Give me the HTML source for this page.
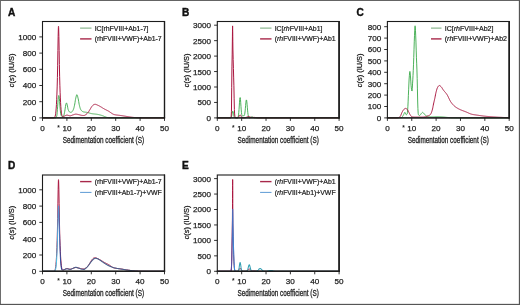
<!DOCTYPE html>
<html><head><meta charset="utf-8"><title>Figure</title>
<style>
html,body{margin:0;padding:0;background:#fff;}
body{width:520px;height:305px;overflow:hidden;position:relative;}
svg{position:absolute;left:0;top:0;display:block;will-change:transform;}
svg text{font-family:"Liberation Sans",sans-serif;}
</style></head><body>
<svg width="520" height="305" viewBox="0 0 520 305">
<defs>
<linearGradient id="gD" gradientUnits="userSpaceOnUse" x1="56.5" y1="0" x2="60.8" y2="0"><stop offset="0" stop-color="#4cc0e4"/><stop offset="0.5" stop-color="#5b8fd0"/><stop offset="1" stop-color="#2c4596"/></linearGradient>
<linearGradient id="gE" gradientUnits="userSpaceOnUse" x1="231" y1="0" x2="235" y2="0"><stop offset="0" stop-color="#5b3f95"/><stop offset="0.5" stop-color="#3f7fd0"/><stop offset="1" stop-color="#2f95e6"/></linearGradient>
</defs>
<rect x="0" y="0" width="520" height="305" fill="#fff"/>
<text x="7.9" y="15.5" font-size="10.1" font-weight="bold" fill="#111" stroke="#111" stroke-width="0.4">A</text>
<path d="M42.50,117.90 L42.74,117.90 L42.99,117.90 L43.23,117.90 L43.48,117.90 L43.72,117.90 L43.97,117.90 L44.21,117.90 L44.46,117.90 L44.70,117.90 L44.94,117.90 L45.19,117.90 L45.43,117.90 L45.68,117.90 L45.92,117.90 L46.17,117.90 L46.41,117.90 L46.66,117.90 L46.90,117.90 L47.15,117.90 L47.39,117.90 L47.63,117.90 L47.88,117.90 L48.12,117.90 L48.37,117.90 L48.61,117.90 L48.86,117.90 L49.10,117.90 L49.35,117.90 L49.59,117.90 L49.83,117.90 L50.08,117.90 L50.32,117.90 L50.57,117.90 L50.81,117.90 L51.06,117.90 L51.30,117.90 L51.55,117.90 L51.79,117.90 L52.04,117.90 L52.28,117.90 L52.52,117.90 L52.77,117.90 L53.01,117.90 L53.26,117.90 L53.50,117.90 L53.75,117.90 L53.99,117.90 L54.24,117.90 L54.48,117.90 L54.72,117.90 L54.97,117.90 L55.21,117.90 L55.46,117.90 L55.70,117.85 L55.95,117.64 L56.19,117.30 L56.44,116.83 L56.68,116.23 L56.92,115.25 L57.17,112.71 L57.41,109.36 L57.66,106.17 L57.90,102.66 L58.15,99.34 L58.38,97.33 L58.39,97.25 L58.43,96.98 L58.45,96.84 L58.50,96.51 L58.55,96.21 L58.60,95.94 L58.62,95.85 L58.64,95.78 L58.67,95.64 L58.88,95.50 L59.13,96.68 L59.37,98.48 L59.61,101.56 L59.86,105.15 L60.10,108.02 L60.35,110.76 L60.59,113.17 L60.84,114.71 L61.08,115.29 L61.33,115.75 L61.57,116.14 L61.81,116.45 L62.06,116.69 L62.30,116.84 L62.55,116.90 L62.79,116.85 L63.04,116.65 L63.28,116.33 L63.53,115.92 L63.77,115.46 L64.02,114.81 L64.26,113.80 L64.50,112.56 L64.75,111.22 L64.99,109.86 L65.24,108.18 L65.48,106.42 L65.73,105.00 L65.97,104.08 L66.22,103.30 L66.46,102.91 L66.70,103.13 L66.95,103.82 L67.19,104.68 L67.44,105.82 L67.68,107.32 L67.93,108.72 L68.17,109.59 L68.42,110.22 L68.66,110.76 L68.90,111.22 L69.15,111.58 L69.39,111.83 L69.64,111.98 L69.88,112.10 L70.13,112.21 L70.37,112.30 L70.62,112.36 L70.86,112.39 L71.11,112.39 L71.35,112.30 L71.59,112.13 L71.84,111.90 L72.08,111.64 L72.33,111.37 L72.57,111.05 L72.82,110.65 L73.06,110.18 L73.31,109.63 L73.55,109.03 L73.79,108.32 L74.04,107.41 L74.28,106.37 L74.53,105.24 L74.77,103.98 L75.02,102.44 L75.26,100.82 L75.51,99.34 L75.75,98.19 L75.99,97.16 L76.24,96.16 L76.48,95.34 L76.73,94.82 L76.97,94.72 L77.22,95.10 L77.46,95.82 L77.71,96.77 L77.95,97.79 L78.20,98.80 L78.44,100.06 L78.68,101.51 L78.93,102.98 L79.17,104.31 L79.42,105.40 L79.66,106.42 L79.91,107.36 L80.15,108.20 L80.40,108.87 L80.64,109.37 L80.88,109.79 L81.13,110.16 L81.37,110.47 L81.62,110.73 L81.86,110.95 L82.11,111.15 L82.35,111.34 L82.60,111.50 L82.84,111.64 L83.09,111.75 L83.33,111.82 L83.57,111.88 L83.82,111.94 L84.06,111.98 L84.31,112.03 L84.55,112.06 L84.80,112.10 L85.04,112.13 L85.29,112.16 L85.53,112.19 L85.77,112.22 L86.02,112.25 L86.26,112.28 L86.51,112.31 L86.75,112.35 L87.00,112.40 L87.24,112.45 L87.49,112.51 L87.73,112.56 L87.97,112.63 L88.22,112.69 L88.46,112.76 L88.71,112.83 L88.95,112.91 L89.20,112.98 L89.44,113.05 L89.69,113.13 L89.93,113.20 L90.18,113.27 L90.42,113.34 L90.66,113.40 L90.91,113.47 L91.15,113.53 L91.40,113.58 L91.64,113.64 L91.89,113.68 L92.13,113.72 L92.38,113.76 L92.62,113.79 L92.86,113.82 L93.11,113.86 L93.35,113.88 L93.60,113.91 L93.84,113.94 L94.09,113.96 L94.33,113.99 L94.58,114.01 L94.82,114.03 L95.07,114.06 L95.31,114.08 L95.55,114.11 L95.80,114.14 L96.04,114.17 L96.29,114.20 L96.53,114.23 L96.78,114.27 L97.02,114.30 L97.27,114.34 L97.51,114.39 L97.75,114.43 L98.00,114.48 L98.24,114.53 L98.49,114.58 L98.73,114.63 L98.98,114.69 L99.22,114.74 L99.47,114.80 L99.71,114.86 L99.95,114.92 L100.20,114.99 L100.44,115.05 L100.69,115.12 L100.93,115.19 L101.18,115.26 L101.42,115.33 L101.67,115.40 L101.91,115.47 L102.16,115.55 L102.40,115.63 L102.64,115.72 L102.89,115.82 L103.13,115.92 L103.38,116.02 L103.62,116.13 L103.87,116.23 L104.11,116.34 L104.36,116.44 L104.60,116.54 L104.84,116.64 L105.09,116.73 L105.33,116.83 L105.58,116.93 L105.82,117.02 L106.07,117.12 L106.31,117.21 L106.56,117.29 L106.80,117.35 L107.05,117.41 L107.29,117.46 L107.53,117.50 L107.78,117.55 L108.02,117.59 L108.27,117.63 L108.51,117.66 L108.76,117.70 L109.00,117.72 L109.25,117.75 L109.49,117.77 L109.73,117.79 L109.98,117.80 L110.22,117.81 L110.47,117.82 L110.71,117.82 L110.96,117.83 L111.20,117.84 L111.45,117.85 L111.69,117.85 L111.93,117.86 L112.18,117.87 L112.42,117.87 L112.67,117.88 L112.91,117.88 L113.16,117.89 L113.40,117.89 L113.65,117.89 L113.89,117.89 L114.14,117.90 L114.38,117.90 L114.62,117.90 L114.87,117.90 L115.11,117.90 L115.36,117.90 L115.60,117.90 L115.85,117.90 L116.09,117.90 L116.34,117.90 L116.58,117.90 L116.82,117.90 L117.07,117.90 L117.31,117.90 L117.56,117.90 L117.80,117.90 L118.05,117.90 L118.29,117.90 L118.54,117.90 L118.78,117.90 L119.03,117.90 L119.27,117.90 L119.51,117.90 L119.76,117.90 L120.00,117.90 L120.25,117.90 L120.49,117.90 L120.74,117.90 L120.98,117.90 L121.23,117.90 L121.47,117.90 L121.71,117.90 L121.96,117.90 L122.20,117.90 L122.45,117.90 L122.69,117.90 L122.94,117.90 L123.18,117.90 L123.43,117.90 L123.67,117.90 L123.91,117.90 L124.16,117.90 L124.40,117.90 L124.65,117.90 L124.89,117.90 L125.14,117.90 L125.38,117.90 L125.63,117.90 L125.87,117.90 L126.12,117.90 L126.36,117.90 L126.60,117.90 L126.85,117.90 L127.09,117.90 L127.34,117.90 L127.58,117.90 L127.83,117.90 L128.07,117.90 L128.32,117.90 L128.56,117.90 L128.80,117.90 L129.05,117.90 L129.29,117.90 L129.54,117.90 L129.78,117.90 L130.03,117.90 L130.27,117.90 L130.52,117.90 L130.76,117.90 L131.01,117.90 L131.25,117.90 L131.49,117.90 L131.74,117.90 L131.98,117.90 L132.23,117.90 L132.47,117.90 L132.72,117.90 L132.96,117.90 L133.21,117.90 L133.45,117.90 L133.69,117.90 L133.94,117.90 L134.18,117.90 L134.43,117.90 L134.67,117.90 L134.92,117.90 L135.16,117.90 L135.41,117.90 L135.65,117.90 L135.89,117.90 L136.14,117.90 L136.38,117.90 L136.63,117.90 L136.87,117.90 L137.12,117.90 L137.36,117.90 L137.61,117.90 L137.85,117.90 L138.10,117.90 L138.34,117.90 L138.58,117.90 L138.83,117.90 L139.07,117.90 L139.32,117.90 L139.56,117.90 L139.81,117.90 L140.05,117.90 L140.30,117.90 L140.54,117.90 L140.78,117.90 L141.03,117.90 L141.27,117.90 L141.52,117.90 L141.76,117.90 L142.01,117.90 L142.25,117.90 L142.50,117.90 L142.74,117.90 L142.98,117.90 L143.23,117.90 L143.47,117.90 L143.72,117.90 L143.96,117.90 L144.21,117.90 L144.45,117.90 L144.70,117.90 L144.94,117.90 L145.19,117.90 L145.43,117.90 L145.67,117.90 L145.92,117.90 L146.16,117.90 L146.41,117.90 L146.65,117.90 L146.90,117.90 L147.14,117.90 L147.39,117.90 L147.63,117.90 L147.87,117.90 L148.12,117.90 L148.36,117.90 L148.61,117.90 L148.85,117.90 L149.10,117.90 L149.34,117.90 L149.59,117.90 L149.83,117.90 L150.08,117.90 L150.32,117.90 L150.56,117.90 L150.81,117.90 L151.05,117.90 L151.30,117.90 L151.54,117.90 L151.79,117.90 L152.03,117.90 L152.28,117.90 L152.52,117.90 L152.76,117.90 L153.01,117.90 L153.25,117.90 L153.50,117.90 L153.74,117.90 L153.99,117.90 L154.23,117.90 L154.48,117.90 L154.72,117.90 L154.96,117.90 L155.21,117.90 L155.45,117.90 L155.70,117.90 L155.94,117.90 L156.19,117.90 L156.43,117.90 L156.68,117.90 L156.92,117.90 L157.17,117.90 L157.41,117.90 L157.65,117.90 L157.90,117.90 L158.14,117.90 L158.39,117.90 L158.63,117.90 L158.88,117.90 L159.12,117.90 L159.37,117.90 L159.61,117.90 L159.85,117.90 L160.10,117.90 L160.34,117.90 L160.59,117.90 L160.83,117.90 L161.08,117.90 L161.32,117.90 L161.57,117.90 L161.81,117.90 L162.06,117.90 L162.30,117.90 L162.54,117.90 L162.79,117.90 L163.03,117.90 L163.28,117.90 L163.52,117.90 L163.77,117.90 L164.01,117.90 L164.26,117.90 L164.50,117.90" fill="none" stroke="#38a847" stroke-width="0.9" stroke-linejoin="round" stroke-opacity="1"/>
<path d="M42.50,117.90 L42.74,117.90 L42.99,117.90 L43.23,117.90 L43.48,117.90 L43.72,117.90 L43.97,117.90 L44.21,117.90 L44.46,117.90 L44.70,117.90 L44.94,117.90 L45.19,117.90 L45.43,117.90 L45.68,117.90 L45.92,117.90 L46.17,117.90 L46.41,117.90 L46.66,117.90 L46.90,117.90 L47.15,117.90 L47.39,117.90 L47.63,117.90 L47.88,117.90 L48.12,117.90 L48.37,117.90 L48.61,117.90 L48.86,117.90 L49.10,117.90 L49.35,117.90 L49.59,117.90 L49.83,117.90 L50.08,117.90 L50.32,117.90 L50.57,117.90 L50.81,117.90 L51.06,117.90 L51.30,117.90 L51.55,117.90 L51.79,117.90 L52.04,117.90 L52.28,117.90 L52.52,117.90 L52.77,117.90 L53.01,117.89 L53.26,117.89 L53.50,117.87 L53.75,117.85 L53.99,117.79 L54.24,117.70 L54.48,117.52 L54.72,117.23 L54.97,116.75 L55.21,116.01 L55.46,114.89 L55.70,113.29 L55.95,111.07 L56.19,108.12 L56.44,104.37 L56.68,99.74 L56.92,94.08 L57.17,86.94 L57.41,77.56 L57.66,65.22 L57.90,50.45 L58.15,36.25 L58.38,27.62 L58.39,27.38 L58.43,26.77 L58.45,26.54 L58.50,26.25 L58.55,26.38 L58.60,26.91 L58.62,27.24 L58.64,27.55 L58.67,28.33 L58.88,36.53 L59.13,50.40 L59.37,64.52 L59.61,76.24 L59.86,85.22 L60.10,92.21 L60.35,97.92 L60.59,102.69 L60.84,106.62 L61.08,109.74 L61.33,112.10 L61.57,113.82 L61.81,115.00 L62.06,115.77 L62.30,116.23 L62.55,116.48 L62.79,116.58 L63.04,116.59 L63.28,116.54 L63.53,116.47 L63.77,116.38 L64.02,116.29 L64.26,116.19 L64.50,116.08 L64.75,115.96 L64.99,115.83 L65.24,115.71 L65.48,115.59 L65.73,115.47 L65.97,115.37 L66.22,115.29 L66.46,115.22 L66.70,115.17 L66.95,115.15 L67.19,115.16 L67.44,115.19 L67.68,115.23 L67.93,115.29 L68.17,115.36 L68.42,115.43 L68.66,115.51 L68.90,115.58 L69.15,115.65 L69.39,115.71 L69.64,115.76 L69.88,115.79 L70.13,115.80 L70.37,115.78 L70.62,115.75 L70.86,115.69 L71.11,115.62 L71.35,115.53 L71.59,115.44 L71.84,115.34 L72.08,115.24 L72.33,115.14 L72.57,115.04 L72.82,114.96 L73.06,114.88 L73.31,114.80 L73.55,114.72 L73.79,114.63 L74.04,114.54 L74.28,114.46 L74.53,114.38 L74.77,114.30 L75.02,114.24 L75.26,114.19 L75.51,114.16 L75.75,114.15 L75.99,114.16 L76.24,114.17 L76.48,114.20 L76.73,114.23 L76.97,114.27 L77.22,114.31 L77.46,114.36 L77.71,114.42 L77.95,114.47 L78.20,114.53 L78.44,114.58 L78.68,114.63 L78.93,114.69 L79.17,114.74 L79.42,114.79 L79.66,114.86 L79.91,114.92 L80.15,114.99 L80.40,115.06 L80.64,115.13 L80.88,115.20 L81.13,115.26 L81.37,115.31 L81.62,115.35 L81.86,115.39 L82.11,115.41 L82.35,115.43 L82.60,115.45 L82.84,115.46 L83.09,115.48 L83.33,115.49 L83.57,115.50 L83.82,115.50 L84.06,115.49 L84.31,115.44 L84.55,115.36 L84.80,115.25 L85.04,115.12 L85.29,114.97 L85.53,114.81 L85.77,114.65 L86.02,114.49 L86.26,114.31 L86.51,114.11 L86.75,113.89 L87.00,113.65 L87.24,113.39 L87.49,113.12 L87.73,112.83 L87.97,112.54 L88.22,112.24 L88.46,111.92 L88.71,111.57 L88.95,111.20 L89.20,110.81 L89.44,110.40 L89.69,110.00 L89.93,109.61 L90.18,109.22 L90.42,108.81 L90.66,108.38 L90.91,107.96 L91.15,107.54 L91.40,107.14 L91.64,106.77 L91.89,106.44 L92.13,106.15 L92.38,105.86 L92.62,105.58 L92.86,105.33 L93.11,105.10 L93.35,104.90 L93.60,104.75 L93.84,104.64 L94.09,104.54 L94.33,104.45 L94.58,104.37 L94.82,104.32 L95.07,104.30 L95.31,104.31 L95.55,104.35 L95.80,104.41 L96.04,104.48 L96.29,104.57 L96.53,104.68 L96.78,104.78 L97.02,104.89 L97.27,105.00 L97.51,105.10 L97.75,105.21 L98.00,105.32 L98.24,105.43 L98.49,105.55 L98.73,105.68 L98.98,105.80 L99.22,105.94 L99.47,106.07 L99.71,106.21 L99.95,106.35 L100.20,106.49 L100.44,106.63 L100.69,106.77 L100.93,106.90 L101.18,107.05 L101.42,107.20 L101.67,107.35 L101.91,107.50 L102.16,107.66 L102.40,107.82 L102.64,107.97 L102.89,108.13 L103.13,108.28 L103.38,108.43 L103.62,108.58 L103.87,108.72 L104.11,108.86 L104.36,109.00 L104.60,109.13 L104.84,109.26 L105.09,109.39 L105.33,109.51 L105.58,109.64 L105.82,109.76 L106.07,109.88 L106.31,110.00 L106.56,110.12 L106.80,110.25 L107.05,110.37 L107.29,110.49 L107.53,110.62 L107.78,110.75 L108.02,110.88 L108.27,111.01 L108.51,111.15 L108.76,111.29 L109.00,111.45 L109.25,111.60 L109.49,111.77 L109.73,111.93 L109.98,112.10 L110.22,112.27 L110.47,112.45 L110.71,112.62 L110.96,112.79 L111.20,112.96 L111.45,113.13 L111.69,113.29 L111.93,113.45 L112.18,113.61 L112.42,113.76 L112.67,113.90 L112.91,114.03 L113.16,114.16 L113.40,114.27 L113.65,114.38 L113.89,114.47 L114.14,114.55 L114.38,114.62 L114.62,114.68 L114.87,114.73 L115.11,114.78 L115.36,114.82 L115.60,114.86 L115.85,114.90 L116.09,114.94 L116.34,114.97 L116.58,115.01 L116.82,115.04 L117.07,115.07 L117.31,115.10 L117.56,115.12 L117.80,115.15 L118.05,115.18 L118.29,115.21 L118.54,115.23 L118.78,115.26 L119.03,115.28 L119.27,115.31 L119.51,115.34 L119.76,115.37 L120.00,115.40 L120.25,115.43 L120.49,115.46 L120.74,115.50 L120.98,115.53 L121.23,115.57 L121.47,115.61 L121.71,115.65 L121.96,115.68 L122.20,115.72 L122.45,115.76 L122.69,115.80 L122.94,115.84 L123.18,115.88 L123.43,115.92 L123.67,115.96 L123.91,116.00 L124.16,116.04 L124.40,116.08 L124.65,116.12 L124.89,116.16 L125.14,116.20 L125.38,116.24 L125.63,116.28 L125.87,116.32 L126.12,116.36 L126.36,116.40 L126.60,116.44 L126.85,116.48 L127.09,116.51 L127.34,116.55 L127.58,116.59 L127.83,116.63 L128.07,116.67 L128.32,116.71 L128.56,116.75 L128.80,116.79 L129.05,116.83 L129.29,116.87 L129.54,116.91 L129.78,116.95 L130.03,116.98 L130.27,117.02 L130.52,117.06 L130.76,117.10 L131.01,117.13 L131.25,117.17 L131.49,117.20 L131.74,117.23 L131.98,117.26 L132.23,117.29 L132.47,117.32 L132.72,117.35 L132.96,117.37 L133.21,117.40 L133.45,117.42 L133.69,117.44 L133.94,117.46 L134.18,117.48 L134.43,117.50 L134.67,117.52 L134.92,117.54 L135.16,117.56 L135.41,117.58 L135.65,117.60 L135.89,117.62 L136.14,117.64 L136.38,117.66 L136.63,117.67 L136.87,117.69 L137.12,117.70 L137.36,117.72 L137.61,117.73 L137.85,117.74 L138.10,117.76 L138.34,117.77 L138.58,117.78 L138.83,117.78 L139.07,117.79 L139.32,117.80 L139.56,117.80 L139.81,117.81 L140.05,117.81 L140.30,117.81 L140.54,117.82 L140.78,117.82 L141.03,117.83 L141.27,117.83 L141.52,117.83 L141.76,117.84 L142.01,117.84 L142.25,117.84 L142.50,117.85 L142.74,117.85 L142.98,117.85 L143.23,117.86 L143.47,117.86 L143.72,117.86 L143.96,117.86 L144.21,117.87 L144.45,117.87 L144.70,117.87 L144.94,117.88 L145.19,117.88 L145.43,117.88 L145.67,117.88 L145.92,117.88 L146.16,117.89 L146.41,117.89 L146.65,117.89 L146.90,117.89 L147.14,117.89 L147.39,117.89 L147.63,117.89 L147.87,117.90 L148.12,117.90 L148.36,117.90 L148.61,117.90 L148.85,117.90 L149.10,117.90 L149.34,117.90 L149.59,117.90 L149.83,117.90 L150.08,117.90 L150.32,117.90 L150.56,117.90 L150.81,117.90 L151.05,117.90 L151.30,117.90 L151.54,117.90 L151.79,117.90 L152.03,117.90 L152.28,117.90 L152.52,117.90 L152.76,117.90 L153.01,117.90 L153.25,117.90 L153.50,117.90 L153.74,117.90 L153.99,117.90 L154.23,117.90 L154.48,117.90 L154.72,117.90 L154.96,117.90 L155.21,117.90 L155.45,117.90 L155.70,117.90 L155.94,117.90 L156.19,117.90 L156.43,117.90 L156.68,117.90 L156.92,117.90 L157.17,117.90 L157.41,117.90 L157.65,117.90 L157.90,117.90 L158.14,117.90 L158.39,117.90 L158.63,117.90 L158.88,117.90 L159.12,117.90 L159.37,117.90 L159.61,117.90 L159.85,117.90 L160.10,117.90 L160.34,117.90 L160.59,117.90 L160.83,117.90 L161.08,117.90 L161.32,117.90 L161.57,117.90 L161.81,117.90 L162.06,117.90 L162.30,117.90 L162.54,117.90 L162.79,117.90 L163.03,117.90 L163.28,117.90 L163.52,117.90 L163.77,117.90 L164.01,117.90 L164.26,117.90 L164.50,117.90" fill="none" stroke="#aa163f" stroke-width="1.0" stroke-linejoin="round" stroke-opacity="1"/>
<rect x="42.5" y="21.5" width="122.00" height="96.40" fill="none" stroke="#1c1c1c" stroke-width="1.1"/>
<line x1="41.95" y1="117.9" x2="165.1" y2="117.9" stroke="#1c1c1c" stroke-width="1.4"/>
<line x1="164.5" y1="21.0" x2="164.5" y2="118.5" stroke="#1c1c1c" stroke-width="1.3"/>
<line x1="39.3" y1="117.90" x2="42.5" y2="117.90" stroke="#1c1c1c" stroke-width="0.9"/>
<text x="36.3" y="120.85" font-size="8.1" text-anchor="end" fill="#1e1e1e" stroke="#1e1e1e" stroke-width="0.25">0</text>
<line x1="39.3" y1="101.70" x2="42.5" y2="101.70" stroke="#1c1c1c" stroke-width="0.9"/>
<text x="36.3" y="104.65" font-size="8.1" text-anchor="end" fill="#1e1e1e" stroke="#1e1e1e" stroke-width="0.25">200</text>
<line x1="39.3" y1="85.50" x2="42.5" y2="85.50" stroke="#1c1c1c" stroke-width="0.9"/>
<text x="36.3" y="88.45" font-size="8.1" text-anchor="end" fill="#1e1e1e" stroke="#1e1e1e" stroke-width="0.25">400</text>
<line x1="39.3" y1="69.30" x2="42.5" y2="69.30" stroke="#1c1c1c" stroke-width="0.9"/>
<text x="36.3" y="72.25" font-size="8.1" text-anchor="end" fill="#1e1e1e" stroke="#1e1e1e" stroke-width="0.25">600</text>
<line x1="39.3" y1="53.10" x2="42.5" y2="53.10" stroke="#1c1c1c" stroke-width="0.9"/>
<text x="36.3" y="56.05" font-size="8.1" text-anchor="end" fill="#1e1e1e" stroke="#1e1e1e" stroke-width="0.25">800</text>
<line x1="39.3" y1="36.90" x2="42.5" y2="36.90" stroke="#1c1c1c" stroke-width="0.9"/>
<text x="36.3" y="39.85" font-size="8.1" text-anchor="end" fill="#1e1e1e" stroke="#1e1e1e" stroke-width="0.25">1000</text>
<line x1="42.50" y1="117.9" x2="42.50" y2="120.9" stroke="#1c1c1c" stroke-width="0.9"/>
<text x="42.50" y="130.90" font-size="8.1" text-anchor="middle" fill="#1e1e1e" stroke="#1e1e1e" stroke-width="0.25">0</text>
<line x1="66.90" y1="117.9" x2="66.90" y2="120.9" stroke="#1c1c1c" stroke-width="0.9"/>
<text x="66.90" y="130.90" font-size="8.1" text-anchor="middle" fill="#1e1e1e" stroke="#1e1e1e" stroke-width="0.25">10</text>
<line x1="91.30" y1="117.9" x2="91.30" y2="120.9" stroke="#1c1c1c" stroke-width="0.9"/>
<text x="91.30" y="130.90" font-size="8.1" text-anchor="middle" fill="#1e1e1e" stroke="#1e1e1e" stroke-width="0.25">20</text>
<line x1="115.70" y1="117.9" x2="115.70" y2="120.9" stroke="#1c1c1c" stroke-width="0.9"/>
<text x="115.70" y="130.90" font-size="8.1" text-anchor="middle" fill="#1e1e1e" stroke="#1e1e1e" stroke-width="0.25">30</text>
<line x1="140.10" y1="117.9" x2="140.10" y2="120.9" stroke="#1c1c1c" stroke-width="0.9"/>
<text x="140.10" y="130.90" font-size="8.1" text-anchor="middle" fill="#1e1e1e" stroke="#1e1e1e" stroke-width="0.25">40</text>
<line x1="164.50" y1="117.9" x2="164.50" y2="120.9" stroke="#1c1c1c" stroke-width="0.9"/>
<text x="164.50" y="130.90" font-size="8.1" text-anchor="middle" fill="#1e1e1e" stroke="#1e1e1e" stroke-width="0.25">50</text>
<text x="58.60" y="129.50" font-size="6.5" font-weight="bold" text-anchor="middle" fill="#1e1e1e">*</text>
<text x="103.40" y="143.30" font-size="9" text-anchor="middle" fill="#1e1e1e" stroke="#1e1e1e" stroke-width="0.3" textLength="81.3" lengthAdjust="spacingAndGlyphs">Sedimentation coefficient (S)</text>
<text transform="translate(14.40,70.35) rotate(-90)" font-size="7.6" text-anchor="middle" fill="#1e1e1e" stroke="#1e1e1e" stroke-width="0.28" textLength="33.7" lengthAdjust="spacingAndGlyphs"><tspan font-style="italic">c</tspan>(<tspan font-style="italic">s</tspan>) (IU/S)</text>
<line x1="80.1" y1="28.1" x2="91.5" y2="28.1" stroke="#4f8f55" stroke-width="0.8"/>
<text x="94.69999999999999" y="30.6" font-size="6.9" fill="#1e1e1e" stroke="#1e1e1e" stroke-width="0.22">IC[rhFVIII+Ab1-7]</text>
<line x1="80.1" y1="38.900000000000006" x2="91.5" y2="38.900000000000006" stroke="#a8284a" stroke-width="1.4"/>
<text x="94.69999999999999" y="41.400000000000006" font-size="6.9" fill="#1e1e1e" stroke="#1e1e1e" stroke-width="0.22">(rhFVIII+VWF)+Ab1-7</text>
<text x="182.0" y="15.5" font-size="10.1" font-weight="bold" fill="#111" stroke="#111" stroke-width="0.4">B</text>
<path d="M217.30,117.90 L217.54,117.90 L217.79,117.90 L218.03,117.90 L218.28,117.90 L218.52,117.90 L218.76,117.90 L219.01,117.90 L219.25,117.90 L219.50,117.90 L219.74,117.90 L219.98,117.90 L220.23,117.90 L220.47,117.90 L220.72,117.90 L220.96,117.90 L221.21,117.90 L221.45,117.90 L221.69,117.90 L221.94,117.90 L222.18,117.90 L222.43,117.90 L222.67,117.90 L222.91,117.90 L223.16,117.90 L223.40,117.90 L223.65,117.90 L223.89,117.90 L224.13,117.90 L224.38,117.90 L224.62,117.90 L224.87,117.90 L225.11,117.90 L225.35,117.90 L225.60,117.90 L225.84,117.90 L226.09,117.90 L226.33,117.90 L226.58,117.90 L226.82,117.90 L227.06,117.90 L227.31,117.90 L227.55,117.90 L227.80,117.90 L228.04,117.90 L228.28,117.90 L228.53,117.90 L228.77,117.90 L229.02,117.90 L229.26,117.90 L229.50,117.90 L229.75,117.90 L229.99,117.90 L230.24,117.89 L230.48,117.87 L230.72,117.82 L230.97,117.68 L231.21,117.38 L231.46,116.82 L231.70,115.92 L231.95,114.67 L232.19,113.25 L232.43,111.97 L232.48,111.77 L232.53,111.59 L232.55,111.52 L232.58,111.43 L232.60,111.37 L232.65,111.25 L232.65,111.25 L232.68,111.20 L232.70,111.17 L232.70,111.17 L232.72,111.14 L232.75,111.12 L232.77,111.11 L232.82,111.10 L232.92,111.20 L233.17,111.97 L233.41,113.25 L233.65,114.67 L233.90,115.91 L234.14,116.82 L234.39,117.38 L234.63,117.68 L234.87,117.82 L235.12,117.87 L235.36,117.89 L235.61,117.90 L235.85,117.90 L236.09,117.90 L236.34,117.90 L236.58,117.90 L236.83,117.90 L237.07,117.88 L237.32,117.85 L237.56,117.77 L237.80,117.57 L238.05,117.14 L238.29,116.31 L238.54,114.87 L238.78,112.65 L239.02,109.60 L239.27,105.96 L239.51,102.25 L239.76,99.20 L240.00,97.55 L240.24,97.70 L240.49,99.62 L240.73,102.80 L240.98,106.47 L241.22,109.90 L241.46,112.63 L241.71,114.46 L241.95,115.49 L242.20,115.91 L242.44,115.97 L242.69,115.86 L242.93,115.73 L243.17,115.66 L243.42,115.67 L243.66,115.75 L243.91,115.80 L244.15,115.71 L244.39,115.32 L244.64,114.47 L244.88,113.03 L245.13,110.95 L245.37,108.34 L245.61,105.49 L245.86,102.82 L246.10,100.83 L246.35,99.92 L246.59,100.29 L246.83,101.88 L247.08,104.35 L247.32,107.26 L247.57,110.13 L247.81,112.63 L248.06,114.58 L248.30,115.96 L248.54,116.84 L248.79,117.36 L249.03,117.64 L249.28,117.77 L249.52,117.81 L249.76,117.80 L250.01,117.76 L250.25,117.68 L250.50,117.58 L250.74,117.45 L250.98,117.30 L251.23,117.16 L251.47,117.03 L251.72,116.94 L251.96,116.90 L252.20,116.92 L252.45,117.00 L252.69,117.11 L252.94,117.26 L253.18,117.40 L253.43,117.54 L253.67,117.65 L253.91,117.74 L254.16,117.80 L254.40,117.84 L254.65,117.87 L254.89,117.88 L255.13,117.89 L255.38,117.90 L255.62,117.90 L255.87,117.90 L256.11,117.90 L256.35,117.90 L256.60,117.90 L256.84,117.90 L257.09,117.90 L257.33,117.90 L257.57,117.90 L257.82,117.90 L258.06,117.90 L258.31,117.90 L258.55,117.90 L258.79,117.90 L259.04,117.90 L259.28,117.90 L259.53,117.90 L259.77,117.90 L260.02,117.90 L260.26,117.90 L260.50,117.90 L260.75,117.90 L260.99,117.90 L261.24,117.90 L261.48,117.90 L261.72,117.90 L261.97,117.90 L262.21,117.90 L262.46,117.90 L262.70,117.90 L262.94,117.90 L263.19,117.90 L263.43,117.90 L263.68,117.90 L263.92,117.90 L264.16,117.90 L264.41,117.90 L264.65,117.90 L264.90,117.90 L265.14,117.90 L265.39,117.90 L265.63,117.90 L265.87,117.90 L266.12,117.90 L266.36,117.90 L266.61,117.90 L266.85,117.90 L267.09,117.90 L267.34,117.90 L267.58,117.90 L267.83,117.90 L268.07,117.90 L268.31,117.90 L268.56,117.90 L268.80,117.90 L269.05,117.90 L269.29,117.90 L269.53,117.90 L269.78,117.90 L270.02,117.90 L270.27,117.90 L270.51,117.90 L270.76,117.90 L271.00,117.90 L271.24,117.90 L271.49,117.90 L271.73,117.90 L271.98,117.90 L272.22,117.90 L272.46,117.90 L272.71,117.90 L272.95,117.90 L273.20,117.90 L273.44,117.90 L273.68,117.90 L273.93,117.90 L274.17,117.90 L274.42,117.90 L274.66,117.90 L274.90,117.90 L275.15,117.90 L275.39,117.90 L275.64,117.90 L275.88,117.90 L276.13,117.90 L276.37,117.90 L276.61,117.90 L276.86,117.90 L277.10,117.90 L277.35,117.90 L277.59,117.90 L277.83,117.90 L278.08,117.90 L278.32,117.90 L278.57,117.90 L278.81,117.90 L279.05,117.90 L279.30,117.90 L279.54,117.90 L279.79,117.90 L280.03,117.90 L280.27,117.90 L280.52,117.90 L280.76,117.90 L281.01,117.90 L281.25,117.90 L281.50,117.90 L281.74,117.90 L281.98,117.90 L282.23,117.90 L282.47,117.90 L282.72,117.90 L282.96,117.90 L283.20,117.90 L283.45,117.90 L283.69,117.90 L283.94,117.90 L284.18,117.90 L284.42,117.90 L284.67,117.90 L284.91,117.90 L285.16,117.90 L285.40,117.90 L285.64,117.90 L285.89,117.90 L286.13,117.90 L286.38,117.90 L286.62,117.90 L286.87,117.90 L287.11,117.90 L287.35,117.90 L287.60,117.90 L287.84,117.90 L288.09,117.90 L288.33,117.90 L288.57,117.90 L288.82,117.90 L289.06,117.90 L289.31,117.90 L289.55,117.90 L289.79,117.90 L290.04,117.90 L290.28,117.90 L290.53,117.90 L290.77,117.90 L291.01,117.90 L291.26,117.90 L291.50,117.90 L291.75,117.90 L291.99,117.90 L292.24,117.90 L292.48,117.90 L292.72,117.90 L292.97,117.90 L293.21,117.90 L293.46,117.90 L293.70,117.90 L293.94,117.90 L294.19,117.90 L294.43,117.90 L294.68,117.90 L294.92,117.90 L295.16,117.90 L295.41,117.90 L295.65,117.90 L295.90,117.90 L296.14,117.90 L296.38,117.90 L296.63,117.90 L296.87,117.90 L297.12,117.90 L297.36,117.90 L297.61,117.90 L297.85,117.90 L298.09,117.90 L298.34,117.90 L298.58,117.90 L298.83,117.90 L299.07,117.90 L299.31,117.90 L299.56,117.90 L299.80,117.90 L300.05,117.90 L300.29,117.90 L300.53,117.90 L300.78,117.90 L301.02,117.90 L301.27,117.90 L301.51,117.90 L301.75,117.90 L302.00,117.90 L302.24,117.90 L302.49,117.90 L302.73,117.90 L302.97,117.90 L303.22,117.90 L303.46,117.90 L303.71,117.90 L303.95,117.90 L304.20,117.90 L304.44,117.90 L304.68,117.90 L304.93,117.90 L305.17,117.90 L305.42,117.90 L305.66,117.90 L305.90,117.90 L306.15,117.90 L306.39,117.90 L306.64,117.90 L306.88,117.90 L307.12,117.90 L307.37,117.90 L307.61,117.90 L307.86,117.90 L308.10,117.90 L308.34,117.90 L308.59,117.90 L308.83,117.90 L309.08,117.90 L309.32,117.90 L309.57,117.90 L309.81,117.90 L310.05,117.90 L310.30,117.90 L310.54,117.90 L310.79,117.90 L311.03,117.90 L311.27,117.90 L311.52,117.90 L311.76,117.90 L312.01,117.90 L312.25,117.90 L312.49,117.90 L312.74,117.90 L312.98,117.90 L313.23,117.90 L313.47,117.90 L313.71,117.90 L313.96,117.90 L314.20,117.90 L314.45,117.90 L314.69,117.90 L314.94,117.90 L315.18,117.90 L315.42,117.90 L315.67,117.90 L315.91,117.90 L316.16,117.90 L316.40,117.90 L316.64,117.90 L316.89,117.90 L317.13,117.90 L317.38,117.90 L317.62,117.90 L317.86,117.90 L318.11,117.90 L318.35,117.90 L318.60,117.90 L318.84,117.90 L319.08,117.90 L319.33,117.90 L319.57,117.90 L319.82,117.90 L320.06,117.90 L320.31,117.90 L320.55,117.90 L320.79,117.90 L321.04,117.90 L321.28,117.90 L321.53,117.90 L321.77,117.90 L322.01,117.90 L322.26,117.90 L322.50,117.90 L322.75,117.90 L322.99,117.90 L323.23,117.90 L323.48,117.90 L323.72,117.90 L323.97,117.90 L324.21,117.90 L324.45,117.90 L324.70,117.90 L324.94,117.90 L325.19,117.90 L325.43,117.90 L325.68,117.90 L325.92,117.90 L326.16,117.90 L326.41,117.90 L326.65,117.90 L326.90,117.90 L327.14,117.90 L327.38,117.90 L327.63,117.90 L327.87,117.90 L328.12,117.90 L328.36,117.90 L328.60,117.90 L328.85,117.90 L329.09,117.90 L329.34,117.90 L329.58,117.90 L329.82,117.90 L330.07,117.90 L330.31,117.90 L330.56,117.90 L330.80,117.90 L331.05,117.90 L331.29,117.90 L331.53,117.90 L331.78,117.90 L332.02,117.90 L332.27,117.90 L332.51,117.90 L332.75,117.90 L333.00,117.90 L333.24,117.90 L333.49,117.90 L333.73,117.90 L333.97,117.90 L334.22,117.90 L334.46,117.90 L334.71,117.90 L334.95,117.90 L335.19,117.90 L335.44,117.90 L335.68,117.90 L335.93,117.90 L336.17,117.90 L336.42,117.90 L336.66,117.90 L336.90,117.90 L337.15,117.90 L337.39,117.90 L337.64,117.90 L337.88,117.90 L338.12,117.90 L338.37,117.90 L338.61,117.90 L338.86,117.90 L339.10,117.90" fill="none" stroke="#38a847" stroke-width="0.9" stroke-linejoin="round" stroke-opacity="1"/>
<path d="M217.30,117.90 L217.54,117.90 L217.79,117.90 L218.03,117.90 L218.28,117.90 L218.52,117.90 L218.76,117.90 L219.01,117.90 L219.25,117.90 L219.50,117.90 L219.74,117.90 L219.98,117.90 L220.23,117.90 L220.47,117.90 L220.72,117.90 L220.96,117.90 L221.21,117.90 L221.45,117.90 L221.69,117.90 L221.94,117.90 L222.18,117.90 L222.43,117.90 L222.67,117.90 L222.91,117.90 L223.16,117.90 L223.40,117.90 L223.65,117.90 L223.89,117.90 L224.13,117.90 L224.38,117.90 L224.62,117.90 L224.87,117.90 L225.11,117.90 L225.35,117.90 L225.60,117.90 L225.84,117.90 L226.09,117.90 L226.33,117.90 L226.58,117.90 L226.82,117.90 L227.06,117.90 L227.31,117.90 L227.55,117.90 L227.80,117.90 L228.04,117.90 L228.28,117.90 L228.53,117.90 L228.77,117.90 L229.02,117.90 L229.26,117.90 L229.50,117.90 L229.75,117.90 L229.99,117.90 L230.24,117.90 L230.48,117.90 L230.72,117.83 L230.97,117.33 L231.21,116.08 L231.46,111.23 L231.70,87.78 L231.95,66.91 L232.19,54.13 L232.43,36.11 L232.48,31.82 L232.53,28.14 L232.55,27.09 L232.58,26.10 L232.60,25.90 L232.65,27.16 L232.65,27.16 L232.68,28.76 L232.70,30.42 L232.70,30.42 L232.72,32.11 L232.75,34.90 L232.77,36.86 L232.82,41.75 L232.92,49.03 L233.17,59.62 L233.41,68.40 L233.65,77.10 L233.90,85.80 L234.14,98.15 L234.39,109.59 L234.63,113.95 L234.87,116.29 L235.12,117.05 L235.36,117.49 L235.61,117.64 L235.85,117.73 L236.09,117.79 L236.34,117.84 L236.58,117.87 L236.83,117.88 L237.07,117.87 L237.32,117.84 L237.56,117.78 L237.80,117.69 L238.05,117.53 L238.29,117.32 L238.54,117.02 L238.78,116.65 L239.02,116.22 L239.27,115.78 L239.51,115.38 L239.76,115.07 L240.00,114.91 L240.24,114.93 L240.49,115.12 L240.73,115.44 L240.98,115.86 L241.22,116.30 L241.46,116.72 L241.71,117.08 L241.95,117.36 L242.20,117.57 L242.44,117.71 L242.69,117.79 L242.93,117.84 L243.17,117.87 L243.42,117.88 L243.66,117.88 L243.91,117.88 L244.15,117.86 L244.39,117.85 L244.64,117.82 L244.88,117.79 L245.13,117.75 L245.37,117.69 L245.61,117.62 L245.86,117.54 L246.10,117.44 L246.35,117.33 L246.59,117.21 L246.83,117.08 L247.08,116.96 L247.32,116.83 L247.57,116.72 L247.81,116.62 L248.06,116.55 L248.30,116.50 L248.54,116.49 L248.79,116.51 L249.03,116.55 L249.28,116.62 L249.52,116.72 L249.76,116.82 L250.01,116.93 L250.25,117.04 L250.50,117.15 L250.74,117.24 L250.98,117.32 L251.23,117.38 L251.47,117.43 L251.72,117.45 L251.96,117.47 L252.20,117.47 L252.45,117.46 L252.69,117.45 L252.94,117.44 L253.18,117.42 L253.43,117.41 L253.67,117.40 L253.91,117.40 L254.16,117.40 L254.40,117.41 L254.65,117.42 L254.89,117.45 L255.13,117.47 L255.38,117.51 L255.62,117.54 L255.87,117.58 L256.11,117.61 L256.35,117.65 L256.60,117.68 L256.84,117.72 L257.09,117.75 L257.33,117.78 L257.57,117.80 L257.82,117.82 L258.06,117.84 L258.31,117.85 L258.55,117.86 L258.79,117.87 L259.04,117.88 L259.28,117.88 L259.53,117.89 L259.77,117.89 L260.02,117.89 L260.26,117.90 L260.50,117.90 L260.75,117.90 L260.99,117.90 L261.24,117.90 L261.48,117.90 L261.72,117.90 L261.97,117.90 L262.21,117.90 L262.46,117.90 L262.70,117.90 L262.94,117.90 L263.19,117.90 L263.43,117.90 L263.68,117.90 L263.92,117.90 L264.16,117.90 L264.41,117.90 L264.65,117.90 L264.90,117.90 L265.14,117.90 L265.39,117.90 L265.63,117.90 L265.87,117.90 L266.12,117.90 L266.36,117.90 L266.61,117.90 L266.85,117.90 L267.09,117.90 L267.34,117.90 L267.58,117.90 L267.83,117.90 L268.07,117.90 L268.31,117.90 L268.56,117.90 L268.80,117.90 L269.05,117.90 L269.29,117.90 L269.53,117.90 L269.78,117.90 L270.02,117.90 L270.27,117.90 L270.51,117.90 L270.76,117.90 L271.00,117.90 L271.24,117.90 L271.49,117.90 L271.73,117.90 L271.98,117.90 L272.22,117.90 L272.46,117.90 L272.71,117.90 L272.95,117.90 L273.20,117.90 L273.44,117.90 L273.68,117.90 L273.93,117.90 L274.17,117.90 L274.42,117.90 L274.66,117.90 L274.90,117.90 L275.15,117.90 L275.39,117.90 L275.64,117.90 L275.88,117.90 L276.13,117.90 L276.37,117.90 L276.61,117.90 L276.86,117.90 L277.10,117.90 L277.35,117.90 L277.59,117.90 L277.83,117.90 L278.08,117.90 L278.32,117.90 L278.57,117.90 L278.81,117.90 L279.05,117.90 L279.30,117.90 L279.54,117.90 L279.79,117.90 L280.03,117.90 L280.27,117.90 L280.52,117.90 L280.76,117.90 L281.01,117.90 L281.25,117.90 L281.50,117.90 L281.74,117.90 L281.98,117.90 L282.23,117.90 L282.47,117.90 L282.72,117.90 L282.96,117.90 L283.20,117.90 L283.45,117.90 L283.69,117.90 L283.94,117.90 L284.18,117.90 L284.42,117.90 L284.67,117.90 L284.91,117.90 L285.16,117.90 L285.40,117.90 L285.64,117.90 L285.89,117.90 L286.13,117.90 L286.38,117.90 L286.62,117.90 L286.87,117.90 L287.11,117.90 L287.35,117.90 L287.60,117.90 L287.84,117.90 L288.09,117.90 L288.33,117.90 L288.57,117.90 L288.82,117.90 L289.06,117.90 L289.31,117.90 L289.55,117.90 L289.79,117.90 L290.04,117.90 L290.28,117.90 L290.53,117.90 L290.77,117.90 L291.01,117.90 L291.26,117.90 L291.50,117.90 L291.75,117.90 L291.99,117.90 L292.24,117.90 L292.48,117.90 L292.72,117.90 L292.97,117.90 L293.21,117.90 L293.46,117.90 L293.70,117.90 L293.94,117.90 L294.19,117.90 L294.43,117.90 L294.68,117.90 L294.92,117.90 L295.16,117.90 L295.41,117.90 L295.65,117.90 L295.90,117.90 L296.14,117.90 L296.38,117.90 L296.63,117.90 L296.87,117.90 L297.12,117.90 L297.36,117.90 L297.61,117.90 L297.85,117.90 L298.09,117.90 L298.34,117.90 L298.58,117.90 L298.83,117.90 L299.07,117.90 L299.31,117.90 L299.56,117.90 L299.80,117.90 L300.05,117.90 L300.29,117.90 L300.53,117.90 L300.78,117.90 L301.02,117.90 L301.27,117.90 L301.51,117.90 L301.75,117.90 L302.00,117.90 L302.24,117.90 L302.49,117.90 L302.73,117.90 L302.97,117.90 L303.22,117.90 L303.46,117.90 L303.71,117.90 L303.95,117.90 L304.20,117.90 L304.44,117.90 L304.68,117.90 L304.93,117.90 L305.17,117.90 L305.42,117.90 L305.66,117.90 L305.90,117.90 L306.15,117.90 L306.39,117.90 L306.64,117.90 L306.88,117.90 L307.12,117.90 L307.37,117.90 L307.61,117.90 L307.86,117.90 L308.10,117.90 L308.34,117.90 L308.59,117.90 L308.83,117.90 L309.08,117.90 L309.32,117.90 L309.57,117.90 L309.81,117.90 L310.05,117.90 L310.30,117.90 L310.54,117.90 L310.79,117.90 L311.03,117.90 L311.27,117.90 L311.52,117.90 L311.76,117.90 L312.01,117.90 L312.25,117.90 L312.49,117.90 L312.74,117.90 L312.98,117.90 L313.23,117.90 L313.47,117.90 L313.71,117.90 L313.96,117.90 L314.20,117.90 L314.45,117.90 L314.69,117.90 L314.94,117.90 L315.18,117.90 L315.42,117.90 L315.67,117.90 L315.91,117.90 L316.16,117.90 L316.40,117.90 L316.64,117.90 L316.89,117.90 L317.13,117.90 L317.38,117.90 L317.62,117.90 L317.86,117.90 L318.11,117.90 L318.35,117.90 L318.60,117.90 L318.84,117.90 L319.08,117.90 L319.33,117.90 L319.57,117.90 L319.82,117.90 L320.06,117.90 L320.31,117.90 L320.55,117.90 L320.79,117.90 L321.04,117.90 L321.28,117.90 L321.53,117.90 L321.77,117.90 L322.01,117.90 L322.26,117.90 L322.50,117.90 L322.75,117.90 L322.99,117.90 L323.23,117.90 L323.48,117.90 L323.72,117.90 L323.97,117.90 L324.21,117.90 L324.45,117.90 L324.70,117.90 L324.94,117.90 L325.19,117.90 L325.43,117.90 L325.68,117.90 L325.92,117.90 L326.16,117.90 L326.41,117.90 L326.65,117.90 L326.90,117.90 L327.14,117.90 L327.38,117.90 L327.63,117.90 L327.87,117.90 L328.12,117.90 L328.36,117.90 L328.60,117.90 L328.85,117.90 L329.09,117.90 L329.34,117.90 L329.58,117.90 L329.82,117.90 L330.07,117.90 L330.31,117.90 L330.56,117.90 L330.80,117.90 L331.05,117.90 L331.29,117.90 L331.53,117.90 L331.78,117.90 L332.02,117.90 L332.27,117.90 L332.51,117.90 L332.75,117.90 L333.00,117.90 L333.24,117.90 L333.49,117.90 L333.73,117.90 L333.97,117.90 L334.22,117.90 L334.46,117.90 L334.71,117.90 L334.95,117.90 L335.19,117.90 L335.44,117.90 L335.68,117.90 L335.93,117.90 L336.17,117.90 L336.42,117.90 L336.66,117.90 L336.90,117.90 L337.15,117.90 L337.39,117.90 L337.64,117.90 L337.88,117.90 L338.12,117.90 L338.37,117.90 L338.61,117.90 L338.86,117.90 L339.10,117.90" fill="none" stroke="#aa163f" stroke-width="1.0" stroke-linejoin="round" stroke-opacity="1"/>
<rect x="217.3" y="21.5" width="121.80" height="96.40" fill="none" stroke="#1c1c1c" stroke-width="1.1"/>
<line x1="216.75" y1="117.9" x2="339.70000000000005" y2="117.9" stroke="#1c1c1c" stroke-width="1.4"/>
<line x1="339.1" y1="21.0" x2="339.1" y2="118.5" stroke="#1c1c1c" stroke-width="1.6"/>
<line x1="214.10000000000002" y1="117.90" x2="217.3" y2="117.90" stroke="#1c1c1c" stroke-width="0.9"/>
<text x="211.10000000000002" y="120.85" font-size="8.1" text-anchor="end" fill="#1e1e1e" stroke="#1e1e1e" stroke-width="0.25">0</text>
<line x1="214.10000000000002" y1="102.45" x2="217.3" y2="102.45" stroke="#1c1c1c" stroke-width="0.9"/>
<text x="211.10000000000002" y="105.40" font-size="8.1" text-anchor="end" fill="#1e1e1e" stroke="#1e1e1e" stroke-width="0.25">500</text>
<line x1="214.10000000000002" y1="87.00" x2="217.3" y2="87.00" stroke="#1c1c1c" stroke-width="0.9"/>
<text x="211.10000000000002" y="89.95" font-size="8.1" text-anchor="end" fill="#1e1e1e" stroke="#1e1e1e" stroke-width="0.25">1000</text>
<line x1="214.10000000000002" y1="71.55" x2="217.3" y2="71.55" stroke="#1c1c1c" stroke-width="0.9"/>
<text x="211.10000000000002" y="74.50" font-size="8.1" text-anchor="end" fill="#1e1e1e" stroke="#1e1e1e" stroke-width="0.25">1500</text>
<line x1="214.10000000000002" y1="56.10" x2="217.3" y2="56.10" stroke="#1c1c1c" stroke-width="0.9"/>
<text x="211.10000000000002" y="59.05" font-size="8.1" text-anchor="end" fill="#1e1e1e" stroke="#1e1e1e" stroke-width="0.25">2000</text>
<line x1="214.10000000000002" y1="40.65" x2="217.3" y2="40.65" stroke="#1c1c1c" stroke-width="0.9"/>
<text x="211.10000000000002" y="43.60" font-size="8.1" text-anchor="end" fill="#1e1e1e" stroke="#1e1e1e" stroke-width="0.25">2500</text>
<line x1="214.10000000000002" y1="25.20" x2="217.3" y2="25.20" stroke="#1c1c1c" stroke-width="0.9"/>
<text x="211.10000000000002" y="28.15" font-size="8.1" text-anchor="end" fill="#1e1e1e" stroke="#1e1e1e" stroke-width="0.25">3000</text>
<line x1="217.30" y1="117.9" x2="217.30" y2="120.9" stroke="#1c1c1c" stroke-width="0.9"/>
<text x="217.30" y="130.90" font-size="8.1" text-anchor="middle" fill="#1e1e1e" stroke="#1e1e1e" stroke-width="0.25">0</text>
<line x1="241.66" y1="117.9" x2="241.66" y2="120.9" stroke="#1c1c1c" stroke-width="0.9"/>
<text x="241.66" y="130.90" font-size="8.1" text-anchor="middle" fill="#1e1e1e" stroke="#1e1e1e" stroke-width="0.25">10</text>
<line x1="266.02" y1="117.9" x2="266.02" y2="120.9" stroke="#1c1c1c" stroke-width="0.9"/>
<text x="266.02" y="130.90" font-size="8.1" text-anchor="middle" fill="#1e1e1e" stroke="#1e1e1e" stroke-width="0.25">20</text>
<line x1="290.38" y1="117.9" x2="290.38" y2="120.9" stroke="#1c1c1c" stroke-width="0.9"/>
<text x="290.38" y="130.90" font-size="8.1" text-anchor="middle" fill="#1e1e1e" stroke="#1e1e1e" stroke-width="0.25">30</text>
<line x1="314.74" y1="117.9" x2="314.74" y2="120.9" stroke="#1c1c1c" stroke-width="0.9"/>
<text x="314.74" y="130.90" font-size="8.1" text-anchor="middle" fill="#1e1e1e" stroke="#1e1e1e" stroke-width="0.25">40</text>
<line x1="339.10" y1="117.9" x2="339.10" y2="120.9" stroke="#1c1c1c" stroke-width="0.9"/>
<text x="339.10" y="130.90" font-size="8.1" text-anchor="middle" fill="#1e1e1e" stroke="#1e1e1e" stroke-width="0.25">50</text>
<text x="233.38" y="129.50" font-size="6.5" font-weight="bold" text-anchor="middle" fill="#1e1e1e">*</text>
<text x="278.20" y="143.30" font-size="9" text-anchor="middle" fill="#1e1e1e" stroke="#1e1e1e" stroke-width="0.3" textLength="81.3" lengthAdjust="spacingAndGlyphs">Sedimentation coefficient (S)</text>
<text transform="translate(188.50,70.35) rotate(-90)" font-size="7.6" text-anchor="middle" fill="#1e1e1e" stroke="#1e1e1e" stroke-width="0.28" textLength="33.7" lengthAdjust="spacingAndGlyphs"><tspan font-style="italic">c</tspan>(<tspan font-style="italic">s</tspan>) (IU/S)</text>
<line x1="260.1" y1="28.1" x2="271.5" y2="28.1" stroke="#4f8f55" stroke-width="0.8"/>
<text x="274.70000000000005" y="30.6" font-size="6.9" fill="#1e1e1e" stroke="#1e1e1e" stroke-width="0.22">IC[<tspan font-style="italic">rh</tspan>FVIII+Ab1]</text>
<line x1="260.1" y1="38.900000000000006" x2="271.5" y2="38.900000000000006" stroke="#a8284a" stroke-width="1.4"/>
<text x="274.70000000000005" y="41.400000000000006" font-size="6.9" fill="#1e1e1e" stroke="#1e1e1e" stroke-width="0.22">(<tspan font-style="italic">rh</tspan>FVIII+VWF)+Ab1</text>
<text x="356.5" y="15.5" font-size="10.1" font-weight="bold" fill="#111" stroke="#111" stroke-width="0.4">C</text>
<path d="M387.40,117.90 L387.64,117.90 L387.89,117.90 L388.13,117.90 L388.38,117.90 L388.62,117.90 L388.86,117.90 L389.11,117.90 L389.35,117.90 L389.60,117.90 L389.84,117.90 L390.08,117.90 L390.33,117.90 L390.57,117.90 L390.82,117.90 L391.06,117.90 L391.31,117.90 L391.55,117.90 L391.79,117.90 L392.04,117.90 L392.28,117.90 L392.53,117.90 L392.77,117.90 L393.01,117.90 L393.26,117.90 L393.50,117.90 L393.75,117.90 L393.99,117.90 L394.23,117.90 L394.48,117.90 L394.72,117.90 L394.97,117.90 L395.21,117.90 L395.45,117.90 L395.70,117.90 L395.94,117.90 L396.19,117.90 L396.43,117.90 L396.68,117.90 L396.92,117.89 L397.16,117.89 L397.41,117.88 L397.65,117.88 L397.90,117.87 L398.14,117.86 L398.38,117.85 L398.63,117.84 L398.87,117.83 L399.12,117.81 L399.36,117.80 L399.60,117.78 L399.85,117.76 L400.09,117.74 L400.34,117.72 L400.58,117.70 L400.82,117.68 L401.07,117.65 L401.31,117.62 L401.56,117.59 L401.80,117.47 L402.05,117.24 L402.29,116.93 L402.53,116.55 L402.78,116.14 L403.02,115.71 L403.27,115.28 L403.51,114.88 L403.75,114.42 L404.00,113.86 L404.24,113.28 L404.49,112.79 L404.73,112.47 L404.97,112.42 L405.22,112.75 L405.46,113.32 L405.71,113.96 L405.95,114.48 L406.19,114.70 L406.44,114.65 L406.68,114.51 L406.93,114.28 L407.17,113.95 L407.42,112.67 L407.66,109.81 L407.90,106.28 L408.15,101.15 L408.39,95.34 L408.64,89.81 L408.88,83.96 L409.12,79.02 L409.37,75.70 L409.61,72.89 L409.78,71.69 L409.85,71.45 L409.86,71.44 L409.90,71.40 L409.95,71.47 L410.02,71.76 L410.10,72.33 L410.34,75.03 L410.59,78.01 L410.83,81.89 L411.08,85.62 L411.32,87.84 L411.56,89.59 L411.81,90.81 L412.05,91.04 L412.30,88.25 L412.54,83.88 L412.79,79.86 L413.03,75.39 L413.27,70.28 L413.52,64.23 L413.76,57.58 L414.01,49.79 L414.25,41.84 L414.49,35.74 L414.74,30.16 L414.98,26.37 L414.98,26.35 L415.05,25.90 L415.10,25.80 L415.15,25.90 L415.22,26.37 L415.23,26.42 L415.47,30.32 L415.71,35.93 L415.96,42.08 L416.20,50.07 L416.45,57.80 L416.69,63.84 L416.93,69.95 L417.18,78.48 L417.42,88.90 L417.67,101.01 L417.91,108.61 L418.16,113.25 L418.40,114.61 L418.64,115.04 L418.89,115.32 L419.13,115.47 L419.38,115.49 L419.62,115.42 L419.86,115.27 L420.11,115.06 L420.35,114.84 L420.60,114.60 L420.84,114.25 L421.08,113.84 L421.33,113.44 L421.57,113.13 L421.82,112.89 L422.06,112.67 L422.30,112.49 L422.55,112.40 L422.79,112.44 L423.04,112.59 L423.28,112.80 L423.53,113.03 L423.77,113.27 L424.01,113.59 L424.26,113.94 L424.50,114.30 L424.75,114.63 L424.99,114.89 L425.23,115.09 L425.48,115.28 L425.72,115.45 L425.97,115.60 L426.21,115.75 L426.45,115.88 L426.70,116.00 L426.94,116.12 L427.19,116.24 L427.43,116.36 L427.67,116.49 L427.92,116.61 L428.16,116.71 L428.41,116.80 L428.65,116.86 L428.89,116.90 L429.14,116.90 L429.38,116.90 L429.63,116.90 L429.87,116.90 L430.12,116.90 L430.36,116.90 L430.60,116.90 L430.85,116.90 L431.09,116.90 L431.34,116.90 L431.58,116.90 L431.82,116.90 L432.07,116.90 L432.31,116.90 L432.56,116.90 L432.80,116.90 L433.04,116.90 L433.29,116.90 L433.53,116.89 L433.78,116.88 L434.02,116.87 L434.26,116.85 L434.51,116.84 L434.75,116.82 L435.00,116.80 L435.24,116.78 L435.49,116.76 L435.73,116.75 L435.97,116.73 L436.22,116.72 L436.46,116.71 L436.71,116.70 L436.95,116.70 L437.19,116.70 L437.44,116.70 L437.68,116.71 L437.93,116.71 L438.17,116.72 L438.41,116.72 L438.66,116.73 L438.90,116.74 L439.15,116.75 L439.39,116.76 L439.63,116.77 L439.88,116.78 L440.12,116.79 L440.37,116.81 L440.61,116.82 L440.86,116.83 L441.10,116.85 L441.34,116.86 L441.59,116.88 L441.83,116.89 L442.08,116.90 L442.32,116.92 L442.56,116.94 L442.81,116.96 L443.05,116.98 L443.30,117.00 L443.54,117.03 L443.78,117.05 L444.03,117.08 L444.27,117.10 L444.52,117.13 L444.76,117.16 L445.00,117.19 L445.25,117.22 L445.49,117.24 L445.74,117.27 L445.98,117.30 L446.23,117.32 L446.47,117.35 L446.71,117.37 L446.96,117.40 L447.20,117.42 L447.45,117.44 L447.69,117.46 L447.93,117.49 L448.18,117.51 L448.42,117.54 L448.67,117.56 L448.91,117.59 L449.15,117.61 L449.40,117.63 L449.64,117.65 L449.89,117.68 L450.13,117.70 L450.37,117.72 L450.62,117.73 L450.86,117.75 L451.11,117.76 L451.35,117.78 L451.60,117.79 L451.84,117.80 L452.08,117.80 L452.33,117.81 L452.57,117.81 L452.82,117.82 L453.06,117.82 L453.30,117.83 L453.55,117.83 L453.79,117.84 L454.04,117.84 L454.28,117.85 L454.52,117.85 L454.77,117.85 L455.01,117.86 L455.26,117.86 L455.50,117.87 L455.74,117.87 L455.99,117.87 L456.23,117.88 L456.48,117.88 L456.72,117.88 L456.97,117.88 L457.21,117.89 L457.45,117.89 L457.70,117.89 L457.94,117.89 L458.19,117.89 L458.43,117.90 L458.67,117.90 L458.92,117.90 L459.16,117.90 L459.41,117.90 L459.65,117.90 L459.89,117.90 L460.14,117.90 L460.38,117.90 L460.63,117.90 L460.87,117.90 L461.11,117.90 L461.36,117.90 L461.60,117.90 L461.85,117.90 L462.09,117.90 L462.34,117.90 L462.58,117.90 L462.82,117.90 L463.07,117.90 L463.31,117.90 L463.56,117.90 L463.80,117.90 L464.04,117.90 L464.29,117.90 L464.53,117.90 L464.78,117.90 L465.02,117.90 L465.26,117.90 L465.51,117.90 L465.75,117.90 L466.00,117.90 L466.24,117.90 L466.48,117.90 L466.73,117.90 L466.97,117.90 L467.22,117.90 L467.46,117.90 L467.71,117.90 L467.95,117.90 L468.19,117.90 L468.44,117.90 L468.68,117.90 L468.93,117.90 L469.17,117.90 L469.41,117.90 L469.66,117.90 L469.90,117.90 L470.15,117.90 L470.39,117.90 L470.63,117.90 L470.88,117.90 L471.12,117.90 L471.37,117.90 L471.61,117.90 L471.85,117.90 L472.10,117.90 L472.34,117.90 L472.59,117.90 L472.83,117.90 L473.07,117.90 L473.32,117.90 L473.56,117.90 L473.81,117.90 L474.05,117.90 L474.30,117.90 L474.54,117.90 L474.78,117.90 L475.03,117.90 L475.27,117.90 L475.52,117.90 L475.76,117.90 L476.00,117.90 L476.25,117.90 L476.49,117.90 L476.74,117.90 L476.98,117.90 L477.22,117.90 L477.47,117.90 L477.71,117.90 L477.96,117.90 L478.20,117.90 L478.44,117.90 L478.69,117.90 L478.93,117.90 L479.18,117.90 L479.42,117.90 L479.67,117.90 L479.91,117.90 L480.15,117.90 L480.40,117.90 L480.64,117.90 L480.89,117.90 L481.13,117.90 L481.37,117.90 L481.62,117.90 L481.86,117.90 L482.11,117.90 L482.35,117.90 L482.59,117.90 L482.84,117.90 L483.08,117.90 L483.33,117.90 L483.57,117.90 L483.81,117.90 L484.06,117.90 L484.30,117.90 L484.55,117.90 L484.79,117.90 L485.04,117.90 L485.28,117.90 L485.52,117.90 L485.77,117.90 L486.01,117.90 L486.26,117.90 L486.50,117.90 L486.74,117.90 L486.99,117.90 L487.23,117.90 L487.48,117.90 L487.72,117.90 L487.96,117.90 L488.21,117.90 L488.45,117.90 L488.70,117.90 L488.94,117.90 L489.18,117.90 L489.43,117.90 L489.67,117.90 L489.92,117.90 L490.16,117.90 L490.41,117.90 L490.65,117.90 L490.89,117.90 L491.14,117.90 L491.38,117.90 L491.63,117.90 L491.87,117.90 L492.11,117.90 L492.36,117.90 L492.60,117.90 L492.85,117.90 L493.09,117.90 L493.33,117.90 L493.58,117.90 L493.82,117.90 L494.07,117.90 L494.31,117.90 L494.55,117.90 L494.80,117.90 L495.04,117.90 L495.29,117.90 L495.53,117.90 L495.78,117.90 L496.02,117.90 L496.26,117.90 L496.51,117.90 L496.75,117.90 L497.00,117.90 L497.24,117.90 L497.48,117.90 L497.73,117.90 L497.97,117.90 L498.22,117.90 L498.46,117.90 L498.70,117.90 L498.95,117.90 L499.19,117.90 L499.44,117.90 L499.68,117.90 L499.92,117.90 L500.17,117.90 L500.41,117.90 L500.66,117.90 L500.90,117.90 L501.15,117.90 L501.39,117.90 L501.63,117.90 L501.88,117.90 L502.12,117.90 L502.37,117.90 L502.61,117.90 L502.85,117.90 L503.10,117.90 L503.34,117.90 L503.59,117.90 L503.83,117.90 L504.07,117.90 L504.32,117.90 L504.56,117.90 L504.81,117.90 L505.05,117.90 L505.29,117.90 L505.54,117.90 L505.78,117.90 L506.03,117.90 L506.27,117.90 L506.52,117.90 L506.76,117.90 L507.00,117.90 L507.25,117.90 L507.49,117.90 L507.74,117.90 L507.98,117.90 L508.22,117.90 L508.47,117.90 L508.71,117.90 L508.96,117.90 L509.20,117.90" fill="none" stroke="#38a847" stroke-width="0.9" stroke-linejoin="round" stroke-opacity="1"/>
<path d="M387.40,117.90 L387.64,117.90 L387.89,117.90 L388.13,117.90 L388.38,117.90 L388.62,117.90 L388.86,117.90 L389.11,117.90 L389.35,117.90 L389.60,117.90 L389.84,117.90 L390.08,117.90 L390.33,117.90 L390.57,117.90 L390.82,117.90 L391.06,117.90 L391.31,117.90 L391.55,117.90 L391.79,117.90 L392.04,117.90 L392.28,117.90 L392.53,117.90 L392.77,117.90 L393.01,117.90 L393.26,117.90 L393.50,117.90 L393.75,117.90 L393.99,117.90 L394.23,117.90 L394.48,117.90 L394.72,117.90 L394.97,117.90 L395.21,117.90 L395.45,117.90 L395.70,117.90 L395.94,117.90 L396.19,117.90 L396.43,117.89 L396.68,117.88 L396.92,117.87 L397.16,117.85 L397.41,117.83 L397.65,117.80 L397.90,117.77 L398.14,117.74 L398.38,117.70 L398.63,117.65 L398.87,117.61 L399.12,117.52 L399.36,117.35 L399.60,117.11 L399.85,116.82 L400.09,116.49 L400.34,116.14 L400.58,115.77 L400.82,115.29 L401.07,114.70 L401.31,114.06 L401.56,113.41 L401.80,112.82 L402.05,112.31 L402.29,111.85 L402.53,111.40 L402.78,110.95 L403.02,110.53 L403.27,110.15 L403.51,109.81 L403.75,109.52 L404.00,109.30 L404.24,109.12 L404.49,108.94 L404.73,108.77 L404.97,108.63 L405.22,108.51 L405.46,108.43 L405.71,108.40 L405.95,108.43 L406.19,108.52 L406.44,108.68 L406.68,108.88 L406.93,109.11 L407.17,109.36 L407.42,109.62 L407.66,109.94 L407.90,110.36 L408.15,110.85 L408.39,111.36 L408.64,111.88 L408.88,112.36 L409.12,112.82 L409.37,113.31 L409.61,113.79 L409.78,114.11 L409.85,114.25 L409.86,114.26 L409.90,114.34 L409.95,114.43 L410.02,114.56 L410.10,114.70 L410.34,115.09 L410.59,115.41 L410.83,115.74 L411.08,116.05 L411.32,116.33 L411.56,116.57 L411.81,116.73 L412.05,116.81 L412.30,116.86 L412.54,116.90 L412.79,116.94 L413.03,116.97 L413.27,117.00 L413.52,117.03 L413.76,117.05 L414.01,117.07 L414.25,117.08 L414.49,117.09 L414.74,117.10 L414.98,117.10 L414.98,117.10 L415.05,117.10 L415.10,117.10 L415.15,117.10 L415.22,117.10 L415.23,117.10 L415.47,117.10 L415.71,117.10 L415.96,117.10 L416.20,117.10 L416.45,117.10 L416.69,117.10 L416.93,117.10 L417.18,117.10 L417.42,117.10 L417.67,117.10 L417.91,117.10 L418.16,117.10 L418.40,117.10 L418.64,117.10 L418.89,117.10 L419.13,117.10 L419.38,117.10 L419.62,117.10 L419.86,117.10 L420.11,117.10 L420.35,117.10 L420.60,117.10 L420.84,117.10 L421.08,117.10 L421.33,117.10 L421.57,117.10 L421.82,117.10 L422.06,117.10 L422.30,117.10 L422.55,117.09 L422.79,117.08 L423.04,117.07 L423.28,117.05 L423.53,117.04 L423.77,117.01 L424.01,116.99 L424.26,116.96 L424.50,116.93 L424.75,116.90 L424.99,116.87 L425.23,116.83 L425.48,116.79 L425.72,116.75 L425.97,116.71 L426.21,116.64 L426.45,116.53 L426.70,116.39 L426.94,116.23 L427.19,116.09 L427.43,115.96 L427.67,115.88 L427.92,115.82 L428.16,115.78 L428.41,115.74 L428.65,115.69 L428.89,115.63 L429.14,115.54 L429.38,115.40 L429.63,115.22 L429.87,114.99 L430.12,114.73 L430.36,114.43 L430.60,114.10 L430.85,113.75 L431.09,113.31 L431.34,112.76 L431.58,112.13 L431.82,111.43 L432.07,110.67 L432.31,109.86 L432.56,108.89 L432.80,107.74 L433.04,106.48 L433.29,105.19 L433.53,103.97 L433.78,102.85 L434.02,101.78 L434.26,100.73 L434.51,99.67 L434.75,98.58 L435.00,97.43 L435.24,96.16 L435.49,94.85 L435.73,93.60 L435.97,92.50 L436.22,91.56 L436.46,90.64 L436.71,89.77 L436.95,88.98 L437.19,88.28 L437.44,87.71 L437.68,87.26 L437.93,86.85 L438.17,86.46 L438.41,86.12 L438.66,85.83 L438.90,85.62 L439.15,85.51 L439.39,85.51 L439.63,85.58 L439.88,85.70 L440.12,85.86 L440.37,86.05 L440.61,86.26 L440.86,86.47 L441.10,86.69 L441.34,86.96 L441.59,87.28 L441.83,87.64 L442.08,88.03 L442.32,88.43 L442.56,88.84 L442.81,89.24 L443.05,89.62 L443.30,89.96 L443.54,90.28 L443.78,90.59 L444.03,90.89 L444.27,91.19 L444.52,91.47 L444.76,91.76 L445.00,92.04 L445.25,92.32 L445.49,92.61 L445.74,92.90 L445.98,93.20 L446.23,93.51 L446.47,93.84 L446.71,94.18 L446.96,94.54 L447.20,94.92 L447.45,95.34 L447.69,95.79 L447.93,96.26 L448.18,96.76 L448.42,97.27 L448.67,97.79 L448.91,98.31 L449.15,98.83 L449.40,99.34 L449.64,99.84 L449.89,100.32 L450.13,100.78 L450.37,101.21 L450.62,101.60 L450.86,101.96 L451.11,102.31 L451.35,102.65 L451.60,102.97 L451.84,103.30 L452.08,103.61 L452.33,103.91 L452.57,104.20 L452.82,104.48 L453.06,104.76 L453.30,105.02 L453.55,105.27 L453.79,105.51 L454.04,105.74 L454.28,105.96 L454.52,106.17 L454.77,106.37 L455.01,106.56 L455.26,106.75 L455.50,106.93 L455.74,107.11 L455.99,107.28 L456.23,107.44 L456.48,107.60 L456.72,107.76 L456.97,107.91 L457.21,108.06 L457.45,108.21 L457.70,108.35 L457.94,108.49 L458.19,108.62 L458.43,108.75 L458.67,108.88 L458.92,109.01 L459.16,109.13 L459.41,109.25 L459.65,109.37 L459.89,109.49 L460.14,109.60 L460.38,109.71 L460.63,109.82 L460.87,109.93 L461.11,110.03 L461.36,110.13 L461.60,110.23 L461.85,110.32 L462.09,110.42 L462.34,110.51 L462.58,110.61 L462.82,110.70 L463.07,110.79 L463.31,110.88 L463.56,110.97 L463.80,111.06 L464.04,111.15 L464.29,111.24 L464.53,111.33 L464.78,111.42 L465.02,111.52 L465.26,111.61 L465.51,111.70 L465.75,111.80 L466.00,111.90 L466.24,112.00 L466.48,112.11 L466.73,112.21 L466.97,112.32 L467.22,112.43 L467.46,112.54 L467.71,112.65 L467.95,112.77 L468.19,112.88 L468.44,112.99 L468.68,113.10 L468.93,113.21 L469.17,113.31 L469.41,113.42 L469.66,113.52 L469.90,113.62 L470.15,113.72 L470.39,113.81 L470.63,113.90 L470.88,113.98 L471.12,114.06 L471.37,114.13 L471.61,114.20 L471.85,114.27 L472.10,114.32 L472.34,114.38 L472.59,114.43 L472.83,114.48 L473.07,114.52 L473.32,114.57 L473.56,114.61 L473.81,114.66 L474.05,114.70 L474.30,114.74 L474.54,114.78 L474.78,114.81 L475.03,114.85 L475.27,114.89 L475.52,114.92 L475.76,114.95 L476.00,114.99 L476.25,115.02 L476.49,115.05 L476.74,115.09 L476.98,115.12 L477.22,115.15 L477.47,115.19 L477.71,115.22 L477.96,115.26 L478.20,115.29 L478.44,115.33 L478.69,115.36 L478.93,115.40 L479.18,115.44 L479.42,115.47 L479.67,115.51 L479.91,115.55 L480.15,115.58 L480.40,115.62 L480.64,115.65 L480.89,115.69 L481.13,115.72 L481.37,115.76 L481.62,115.79 L481.86,115.83 L482.11,115.86 L482.35,115.89 L482.59,115.93 L482.84,115.96 L483.08,115.99 L483.33,116.02 L483.57,116.05 L483.81,116.08 L484.06,116.10 L484.30,116.13 L484.55,116.15 L484.79,116.18 L485.04,116.20 L485.28,116.23 L485.52,116.25 L485.77,116.28 L486.01,116.30 L486.26,116.33 L486.50,116.35 L486.74,116.37 L486.99,116.39 L487.23,116.42 L487.48,116.44 L487.72,116.46 L487.96,116.48 L488.21,116.50 L488.45,116.53 L488.70,116.55 L488.94,116.57 L489.18,116.59 L489.43,116.61 L489.67,116.63 L489.92,116.65 L490.16,116.67 L490.41,116.69 L490.65,116.71 L490.89,116.73 L491.14,116.75 L491.38,116.77 L491.63,116.78 L491.87,116.80 L492.11,116.82 L492.36,116.84 L492.60,116.86 L492.85,116.87 L493.09,116.89 L493.33,116.91 L493.58,116.93 L493.82,116.94 L494.07,116.96 L494.31,116.98 L494.55,116.99 L494.80,117.01 L495.04,117.03 L495.29,117.04 L495.53,117.06 L495.78,117.07 L496.02,117.09 L496.26,117.10 L496.51,117.12 L496.75,117.13 L497.00,117.15 L497.24,117.16 L497.48,117.18 L497.73,117.19 L497.97,117.21 L498.22,117.22 L498.46,117.23 L498.70,117.25 L498.95,117.26 L499.19,117.27 L499.44,117.28 L499.68,117.29 L499.92,117.31 L500.17,117.32 L500.41,117.33 L500.66,117.34 L500.90,117.35 L501.15,117.36 L501.39,117.37 L501.63,117.39 L501.88,117.40 L502.12,117.41 L502.37,117.42 L502.61,117.43 L502.85,117.44 L503.10,117.45 L503.34,117.46 L503.59,117.47 L503.83,117.48 L504.07,117.50 L504.32,117.51 L504.56,117.52 L504.81,117.53 L505.05,117.54 L505.29,117.56 L505.54,117.57 L505.78,117.58 L506.03,117.59 L506.27,117.61 L506.52,117.62 L506.76,117.64 L507.00,117.65 L507.25,117.67 L507.49,117.68 L507.74,117.70 L507.98,117.71 L508.22,117.73 L508.47,117.75 L508.71,117.77 L508.96,117.78 L509.20,117.80" fill="none" stroke="#aa163f" stroke-width="1.0" stroke-linejoin="round" stroke-opacity="1"/>
<rect x="387.4" y="21.5" width="121.80" height="96.40" fill="none" stroke="#1c1c1c" stroke-width="1.1"/>
<line x1="386.84999999999997" y1="117.9" x2="509.8" y2="117.9" stroke="#1c1c1c" stroke-width="1.4"/>
<line x1="509.2" y1="21.0" x2="509.2" y2="118.5" stroke="#1c1c1c" stroke-width="1.6"/>
<line x1="384.2" y1="117.90" x2="387.4" y2="117.90" stroke="#1c1c1c" stroke-width="0.9"/>
<text x="381.2" y="120.85" font-size="8.1" text-anchor="end" fill="#1e1e1e" stroke="#1e1e1e" stroke-width="0.25">0</text>
<line x1="384.2" y1="106.50" x2="387.4" y2="106.50" stroke="#1c1c1c" stroke-width="0.9"/>
<text x="381.2" y="109.45" font-size="8.1" text-anchor="end" fill="#1e1e1e" stroke="#1e1e1e" stroke-width="0.25">100</text>
<line x1="384.2" y1="95.10" x2="387.4" y2="95.10" stroke="#1c1c1c" stroke-width="0.9"/>
<text x="381.2" y="98.05" font-size="8.1" text-anchor="end" fill="#1e1e1e" stroke="#1e1e1e" stroke-width="0.25">200</text>
<line x1="384.2" y1="83.70" x2="387.4" y2="83.70" stroke="#1c1c1c" stroke-width="0.9"/>
<text x="381.2" y="86.65" font-size="8.1" text-anchor="end" fill="#1e1e1e" stroke="#1e1e1e" stroke-width="0.25">300</text>
<line x1="384.2" y1="72.30" x2="387.4" y2="72.30" stroke="#1c1c1c" stroke-width="0.9"/>
<text x="381.2" y="75.25" font-size="8.1" text-anchor="end" fill="#1e1e1e" stroke="#1e1e1e" stroke-width="0.25">400</text>
<line x1="384.2" y1="60.90" x2="387.4" y2="60.90" stroke="#1c1c1c" stroke-width="0.9"/>
<text x="381.2" y="63.85" font-size="8.1" text-anchor="end" fill="#1e1e1e" stroke="#1e1e1e" stroke-width="0.25">500</text>
<line x1="384.2" y1="49.50" x2="387.4" y2="49.50" stroke="#1c1c1c" stroke-width="0.9"/>
<text x="381.2" y="52.45" font-size="8.1" text-anchor="end" fill="#1e1e1e" stroke="#1e1e1e" stroke-width="0.25">600</text>
<line x1="384.2" y1="38.10" x2="387.4" y2="38.10" stroke="#1c1c1c" stroke-width="0.9"/>
<text x="381.2" y="41.05" font-size="8.1" text-anchor="end" fill="#1e1e1e" stroke="#1e1e1e" stroke-width="0.25">700</text>
<line x1="384.2" y1="26.70" x2="387.4" y2="26.70" stroke="#1c1c1c" stroke-width="0.9"/>
<text x="381.2" y="29.65" font-size="8.1" text-anchor="end" fill="#1e1e1e" stroke="#1e1e1e" stroke-width="0.25">800</text>
<line x1="387.40" y1="117.9" x2="387.40" y2="120.9" stroke="#1c1c1c" stroke-width="0.9"/>
<text x="387.40" y="130.90" font-size="8.1" text-anchor="middle" fill="#1e1e1e" stroke="#1e1e1e" stroke-width="0.25">0</text>
<line x1="411.76" y1="117.9" x2="411.76" y2="120.9" stroke="#1c1c1c" stroke-width="0.9"/>
<text x="411.76" y="130.90" font-size="8.1" text-anchor="middle" fill="#1e1e1e" stroke="#1e1e1e" stroke-width="0.25">10</text>
<line x1="436.12" y1="117.9" x2="436.12" y2="120.9" stroke="#1c1c1c" stroke-width="0.9"/>
<text x="436.12" y="130.90" font-size="8.1" text-anchor="middle" fill="#1e1e1e" stroke="#1e1e1e" stroke-width="0.25">20</text>
<line x1="460.48" y1="117.9" x2="460.48" y2="120.9" stroke="#1c1c1c" stroke-width="0.9"/>
<text x="460.48" y="130.90" font-size="8.1" text-anchor="middle" fill="#1e1e1e" stroke="#1e1e1e" stroke-width="0.25">30</text>
<line x1="484.84" y1="117.9" x2="484.84" y2="120.9" stroke="#1c1c1c" stroke-width="0.9"/>
<text x="484.84" y="130.90" font-size="8.1" text-anchor="middle" fill="#1e1e1e" stroke="#1e1e1e" stroke-width="0.25">40</text>
<line x1="509.20" y1="117.9" x2="509.20" y2="120.9" stroke="#1c1c1c" stroke-width="0.9"/>
<text x="509.20" y="130.90" font-size="8.1" text-anchor="middle" fill="#1e1e1e" stroke="#1e1e1e" stroke-width="0.25">50</text>
<text x="403.48" y="129.50" font-size="6.5" font-weight="bold" text-anchor="middle" fill="#1e1e1e">*</text>
<text x="448.30" y="143.30" font-size="9" text-anchor="middle" fill="#1e1e1e" stroke="#1e1e1e" stroke-width="0.3" textLength="81.3" lengthAdjust="spacingAndGlyphs">Sedimentation coefficient (S)</text>
<text transform="translate(362.10,70.35) rotate(-90)" font-size="7.6" text-anchor="middle" fill="#1e1e1e" stroke="#1e1e1e" stroke-width="0.28" textLength="33.7" lengthAdjust="spacingAndGlyphs"><tspan font-style="italic">c</tspan>(<tspan font-style="italic">s</tspan>) (IU/S)</text>
<line x1="431.0" y1="28.1" x2="441.5" y2="28.1" stroke="#4f8f55" stroke-width="0.8"/>
<text x="444.7" y="30.6" font-size="7.05" fill="#1e1e1e" stroke="#1e1e1e" stroke-width="0.22">IC[<tspan font-style="italic">rh</tspan>FVIII+Ab2]</text>
<line x1="431.0" y1="38.900000000000006" x2="441.5" y2="38.900000000000006" stroke="#a8284a" stroke-width="1.4"/>
<text x="444.7" y="41.400000000000006" font-size="7.05" fill="#1e1e1e" stroke="#1e1e1e" stroke-width="0.22">(<tspan font-style="italic">rh</tspan>FVIII+VWF)+Ab2</text>
<text x="7.9" y="168.9" font-size="10.1" font-weight="bold" fill="#111" stroke="#111" stroke-width="0.4">D</text>
<path d="M42.50,271.30 L42.74,271.30 L42.99,271.30 L43.23,271.30 L43.48,271.30 L43.72,271.30 L43.97,271.30 L44.21,271.30 L44.46,271.30 L44.70,271.30 L44.94,271.30 L45.19,271.30 L45.43,271.30 L45.68,271.30 L45.92,271.30 L46.17,271.30 L46.41,271.30 L46.66,271.30 L46.90,271.30 L47.15,271.30 L47.39,271.30 L47.63,271.30 L47.88,271.30 L48.12,271.30 L48.37,271.30 L48.61,271.30 L48.86,271.30 L49.10,271.30 L49.35,271.30 L49.59,271.30 L49.83,271.30 L50.08,271.30 L50.32,271.30 L50.57,271.30 L50.81,271.30 L51.06,271.30 L51.30,271.30 L51.55,271.30 L51.79,271.30 L52.04,271.30 L52.28,271.30 L52.52,271.30 L52.77,271.30 L53.01,271.29 L53.26,271.29 L53.50,271.27 L53.75,271.25 L53.99,271.19 L54.24,271.10 L54.48,270.92 L54.72,270.63 L54.97,270.15 L55.21,269.41 L55.46,268.29 L55.70,266.69 L55.95,264.47 L56.19,261.52 L56.44,257.77 L56.68,253.14 L56.92,247.48 L57.17,240.34 L57.41,230.96 L57.66,218.62 L57.90,203.85 L58.15,189.65 L58.38,181.02 L58.39,180.78 L58.43,180.17 L58.45,179.94 L58.50,179.65 L58.55,179.78 L58.60,180.31 L58.62,180.64 L58.64,180.95 L58.67,181.73 L58.88,189.93 L59.13,203.80 L59.37,217.92 L59.61,229.64 L59.86,238.62 L60.10,245.61 L60.35,251.32 L60.59,256.09 L60.84,260.02 L61.08,263.14 L61.33,265.50 L61.57,267.22 L61.81,268.40 L62.06,269.17 L62.30,269.63 L62.55,269.88 L62.79,269.98 L63.04,269.99 L63.28,269.94 L63.53,269.87 L63.77,269.78 L64.02,269.69 L64.26,269.59 L64.50,269.48 L64.75,269.36 L64.99,269.23 L65.24,269.11 L65.48,268.99 L65.73,268.87 L65.97,268.77 L66.22,268.69 L66.46,268.62 L66.70,268.57 L66.95,268.55 L67.19,268.56 L67.44,268.59 L67.68,268.63 L67.93,268.69 L68.17,268.76 L68.42,268.83 L68.66,268.91 L68.90,268.98 L69.15,269.05 L69.39,269.11 L69.64,269.16 L69.88,269.19 L70.13,269.20 L70.37,269.18 L70.62,269.15 L70.86,269.09 L71.11,269.02 L71.35,268.93 L71.59,268.84 L71.84,268.74 L72.08,268.64 L72.33,268.54 L72.57,268.44 L72.82,268.36 L73.06,268.28 L73.31,268.20 L73.55,268.12 L73.79,268.03 L74.04,267.94 L74.28,267.86 L74.53,267.78 L74.77,267.70 L75.02,267.64 L75.26,267.59 L75.51,267.56 L75.75,267.55 L75.99,267.56 L76.24,267.57 L76.48,267.60 L76.73,267.63 L76.97,267.67 L77.22,267.71 L77.46,267.76 L77.71,267.82 L77.95,267.87 L78.20,267.93 L78.44,267.98 L78.68,268.03 L78.93,268.09 L79.17,268.14 L79.42,268.19 L79.66,268.26 L79.91,268.32 L80.15,268.39 L80.40,268.46 L80.64,268.53 L80.88,268.60 L81.13,268.66 L81.37,268.71 L81.62,268.75 L81.86,268.79 L82.11,268.81 L82.35,268.83 L82.60,268.85 L82.84,268.86 L83.09,268.88 L83.33,268.89 L83.57,268.90 L83.82,268.90 L84.06,268.89 L84.31,268.84 L84.55,268.76 L84.80,268.65 L85.04,268.52 L85.29,268.37 L85.53,268.21 L85.77,268.05 L86.02,267.89 L86.26,267.71 L86.51,267.51 L86.75,267.29 L87.00,267.05 L87.24,266.79 L87.49,266.52 L87.73,266.23 L87.97,265.94 L88.22,265.64 L88.46,265.32 L88.71,264.97 L88.95,264.60 L89.20,264.21 L89.44,263.80 L89.69,263.40 L89.93,263.01 L90.18,262.62 L90.42,262.21 L90.66,261.78 L90.91,261.36 L91.15,260.94 L91.40,260.54 L91.64,260.17 L91.89,259.84 L92.13,259.55 L92.38,259.26 L92.62,258.98 L92.86,258.73 L93.11,258.50 L93.35,258.30 L93.60,258.15 L93.84,258.04 L94.09,257.94 L94.33,257.85 L94.58,257.77 L94.82,257.72 L95.07,257.70 L95.31,257.71 L95.55,257.75 L95.80,257.81 L96.04,257.88 L96.29,257.97 L96.53,258.08 L96.78,258.18 L97.02,258.29 L97.27,258.40 L97.51,258.50 L97.75,258.61 L98.00,258.72 L98.24,258.83 L98.49,258.95 L98.73,259.08 L98.98,259.20 L99.22,259.34 L99.47,259.47 L99.71,259.61 L99.95,259.75 L100.20,259.89 L100.44,260.03 L100.69,260.17 L100.93,260.30 L101.18,260.45 L101.42,260.60 L101.67,260.75 L101.91,260.90 L102.16,261.06 L102.40,261.22 L102.64,261.37 L102.89,261.53 L103.13,261.68 L103.38,261.83 L103.62,261.98 L103.87,262.12 L104.11,262.26 L104.36,262.40 L104.60,262.53 L104.84,262.66 L105.09,262.79 L105.33,262.91 L105.58,263.04 L105.82,263.16 L106.07,263.28 L106.31,263.40 L106.56,263.52 L106.80,263.65 L107.05,263.77 L107.29,263.89 L107.53,264.02 L107.78,264.15 L108.02,264.28 L108.27,264.41 L108.51,264.55 L108.76,264.69 L109.00,264.85 L109.25,265.00 L109.49,265.17 L109.73,265.33 L109.98,265.50 L110.22,265.67 L110.47,265.85 L110.71,266.02 L110.96,266.19 L111.20,266.36 L111.45,266.53 L111.69,266.69 L111.93,266.85 L112.18,267.01 L112.42,267.16 L112.67,267.30 L112.91,267.43 L113.16,267.56 L113.40,267.67 L113.65,267.78 L113.89,267.87 L114.14,267.95 L114.38,268.02 L114.62,268.08 L114.87,268.13 L115.11,268.18 L115.36,268.22 L115.60,268.26 L115.85,268.30 L116.09,268.34 L116.34,268.37 L116.58,268.41 L116.82,268.44 L117.07,268.47 L117.31,268.50 L117.56,268.52 L117.80,268.55 L118.05,268.58 L118.29,268.61 L118.54,268.63 L118.78,268.66 L119.03,268.68 L119.27,268.71 L119.51,268.74 L119.76,268.77 L120.00,268.80 L120.25,268.83 L120.49,268.86 L120.74,268.90 L120.98,268.93 L121.23,268.97 L121.47,269.01 L121.71,269.05 L121.96,269.08 L122.20,269.12 L122.45,269.16 L122.69,269.20 L122.94,269.24 L123.18,269.28 L123.43,269.32 L123.67,269.36 L123.91,269.40 L124.16,269.44 L124.40,269.48 L124.65,269.52 L124.89,269.56 L125.14,269.60 L125.38,269.64 L125.63,269.68 L125.87,269.72 L126.12,269.76 L126.36,269.80 L126.60,269.84 L126.85,269.88 L127.09,269.91 L127.34,269.95 L127.58,269.99 L127.83,270.03 L128.07,270.07 L128.32,270.11 L128.56,270.15 L128.80,270.19 L129.05,270.23 L129.29,270.27 L129.54,270.31 L129.78,270.35 L130.03,270.38 L130.27,270.42 L130.52,270.46 L130.76,270.50 L131.01,270.53 L131.25,270.57 L131.49,270.60 L131.74,270.63 L131.98,270.66 L132.23,270.69 L132.47,270.72 L132.72,270.75 L132.96,270.77 L133.21,270.80 L133.45,270.82 L133.69,270.84 L133.94,270.86 L134.18,270.88 L134.43,270.90 L134.67,270.92 L134.92,270.94 L135.16,270.96 L135.41,270.98 L135.65,271.00 L135.89,271.02 L136.14,271.04 L136.38,271.06 L136.63,271.07 L136.87,271.09 L137.12,271.10 L137.36,271.12 L137.61,271.13 L137.85,271.14 L138.10,271.16 L138.34,271.17 L138.58,271.18 L138.83,271.18 L139.07,271.19 L139.32,271.20 L139.56,271.20 L139.81,271.21 L140.05,271.21 L140.30,271.21 L140.54,271.22 L140.78,271.22 L141.03,271.23 L141.27,271.23 L141.52,271.23 L141.76,271.24 L142.01,271.24 L142.25,271.24 L142.50,271.25 L142.74,271.25 L142.98,271.25 L143.23,271.26 L143.47,271.26 L143.72,271.26 L143.96,271.26 L144.21,271.27 L144.45,271.27 L144.70,271.27 L144.94,271.28 L145.19,271.28 L145.43,271.28 L145.67,271.28 L145.92,271.28 L146.16,271.29 L146.41,271.29 L146.65,271.29 L146.90,271.29 L147.14,271.29 L147.39,271.29 L147.63,271.29 L147.87,271.30 L148.12,271.30 L148.36,271.30 L148.61,271.30 L148.85,271.30 L149.10,271.30 L149.34,271.30 L149.59,271.30 L149.83,271.30 L150.08,271.30 L150.32,271.30 L150.56,271.30 L150.81,271.30 L151.05,271.30 L151.30,271.30 L151.54,271.30 L151.79,271.30 L152.03,271.30 L152.28,271.30 L152.52,271.30 L152.76,271.30 L153.01,271.30 L153.25,271.30 L153.50,271.30 L153.74,271.30 L153.99,271.30 L154.23,271.30 L154.48,271.30 L154.72,271.30 L154.96,271.30 L155.21,271.30 L155.45,271.30 L155.70,271.30 L155.94,271.30 L156.19,271.30 L156.43,271.30 L156.68,271.30 L156.92,271.30 L157.17,271.30 L157.41,271.30 L157.65,271.30 L157.90,271.30 L158.14,271.30 L158.39,271.30 L158.63,271.30 L158.88,271.30 L159.12,271.30 L159.37,271.30 L159.61,271.30 L159.85,271.30 L160.10,271.30 L160.34,271.30 L160.59,271.30 L160.83,271.30 L161.08,271.30 L161.32,271.30 L161.57,271.30 L161.81,271.30 L162.06,271.30 L162.30,271.30 L162.54,271.30 L162.79,271.30 L163.03,271.30 L163.28,271.30 L163.52,271.30 L163.77,271.30 L164.01,271.30 L164.26,271.30 L164.50,271.30" fill="none" stroke="#aa163f" stroke-width="1.0" stroke-linejoin="round" stroke-opacity="1"/>
<path d="M42.50,271.30 L42.58,271.30 L42.66,271.30 L42.74,271.30 L42.82,271.30 L42.90,271.30 L42.98,271.30 L43.06,271.30 L43.14,271.30 L43.22,271.30 L43.30,271.30 L43.37,271.30 L43.45,271.30 L43.53,271.30 L43.61,271.30 L43.69,271.30 L43.77,271.30 L43.85,271.30 L43.93,271.30 L44.01,271.30 L44.09,271.30 L44.17,271.30 L44.25,271.30 L44.33,271.30 L44.41,271.30 L44.49,271.30 L44.57,271.30 L44.65,271.30 L44.73,271.30 L44.81,271.30 L44.89,271.30 L44.97,271.30 L45.04,271.30 L45.12,271.30 L45.20,271.30 L45.28,271.30 L45.36,271.30 L45.44,271.30 L45.52,271.30 L45.60,271.30 L45.68,271.30 L45.76,271.30 L45.84,271.30 L45.92,271.30 L46.00,271.30 L46.08,271.30 L46.16,271.30 L46.24,271.30 L46.32,271.30 L46.40,271.30 L46.48,271.30 L46.56,271.30 L46.63,271.30 L46.71,271.30 L46.79,271.30 L46.87,271.30 L46.95,271.30 L47.03,271.30 L47.11,271.30 L47.19,271.30 L47.27,271.30 L47.35,271.30 L47.43,271.30 L47.51,271.30 L47.59,271.30 L47.67,271.30 L47.75,271.30 L47.83,271.30 L47.91,271.30 L47.99,271.30 L48.07,271.30 L48.15,271.30 L48.23,271.30 L48.30,271.30 L48.38,271.30 L48.46,271.30 L48.54,271.30 L48.62,271.30 L48.70,271.30 L48.78,271.30 L48.86,271.30 L48.94,271.30 L49.02,271.30 L49.10,271.30 L49.18,271.30 L49.26,271.30 L49.34,271.30 L49.42,271.30 L49.50,271.30 L49.58,271.30 L49.66,271.30 L49.74,271.30 L49.82,271.30 L49.90,271.30 L49.97,271.30 L50.05,271.30 L50.13,271.30 L50.21,271.30 L50.29,271.30 L50.37,271.30 L50.45,271.30 L50.53,271.30 L50.61,271.30 L50.69,271.30 L50.77,271.30 L50.85,271.30 L50.93,271.30 L51.01,271.30 L51.09,271.30 L51.17,271.30 L51.25,271.30 L51.33,271.30 L51.41,271.30 L51.49,271.30 L51.57,271.30 L51.64,271.30 L51.72,271.30 L51.80,271.30 L51.88,271.30 L51.96,271.30 L52.04,271.30 L52.12,271.30 L52.20,271.30 L52.28,271.30 L52.36,271.30 L52.44,271.30 L52.52,271.30 L52.60,271.30 L52.68,271.30 L52.76,271.30 L52.84,271.30 L52.92,271.30 L53.00,271.30 L53.08,271.30 L53.16,271.30 L53.23,271.30 L53.31,271.30 L53.39,271.30 L53.47,271.29 L53.55,271.29 L53.63,271.29 L53.71,271.29 L53.79,271.28 L53.87,271.28 L53.95,271.27 L54.03,271.26 L54.11,271.25 L54.19,271.24 L54.27,271.23 L54.35,271.21 L54.43,271.18 L54.51,271.15 L54.59,271.11 L54.67,271.07 L54.75,271.01 L54.83,270.95 L54.90,270.87 L54.98,270.77 L55.06,270.66 L55.14,270.53 L55.22,270.37 L55.30,270.19 L55.38,269.98 L55.46,269.73 L55.54,269.44 L55.62,269.12 L55.70,268.74 L55.78,268.31 L55.86,267.83 L55.94,267.29 L56.02,266.68 L56.10,266.00 L56.18,265.24 L56.26,264.41 L56.34,263.49 L56.42,262.49 L56.50,261.40 L56.57,260.21 L56.65,258.92 L56.73,257.53 L56.81,256.02 L56.89,254.40 L56.97,252.66 L57.05,250.79 L57.13,248.77 L57.21,246.61 L57.29,244.29 L57.37,241.81 L57.45,239.17 L57.53,236.37 L57.61,233.43 L57.69,230.37 L57.77,227.23 L57.85,224.06 L57.93,220.92 L58.01,217.88 L58.09,215.02 L58.17,212.42 L58.24,210.17 L58.32,208.35 L58.38,207.36 L58.40,207.03 L58.43,206.70 L58.45,206.50 L58.48,206.24 L58.50,206.15 L58.55,206.03 L58.56,206.04 L58.60,206.14 L58.62,206.25 L58.64,206.41 L58.67,206.68 L58.72,207.35 L58.80,208.83 L58.88,210.77 L58.96,213.12 L59.04,215.79 L59.12,218.70 L59.20,221.77 L59.28,224.91 L59.36,228.06 L59.44,231.16 L59.52,234.16 L59.60,237.04 L59.68,239.77 L59.76,242.35 L59.83,244.76 L59.91,247.01 L59.99,249.11 L60.07,251.06 L60.15,252.87 L60.23,254.56 L60.31,256.12 L60.39,257.57 L60.47,258.91 L60.55,260.15 L60.63,261.30 L60.71,262.34 L60.79,263.30 L60.87,264.17 L60.95,264.97 L61.03,265.68 L61.11,266.32 L61.19,266.88 L61.27,267.38 L61.35,267.82 L61.43,268.20 L61.50,268.53 L61.58,268.81 L61.66,269.06 L61.74,269.26 L61.82,269.43 L61.90,269.58 L61.98,269.70 L62.06,269.80 L62.14,269.87 L62.22,269.93 L62.30,269.98" fill="none" stroke="url(#gD)" stroke-width="1.05" stroke-linejoin="round" stroke-opacity="1"/>
<path d="M62.30,269.98 L62.56,270.05 L62.81,270.04 L63.07,269.99 L63.32,269.92 L63.58,269.84 L63.84,269.75 L64.09,269.67 L64.35,269.58 L64.61,269.48 L64.86,269.38 L65.12,269.28 L65.37,269.18 L65.63,269.08 L65.89,269.00 L66.14,268.92 L66.40,268.86 L66.65,268.82 L66.91,268.80 L67.17,268.81 L67.42,268.83 L67.68,268.87 L67.94,268.93 L68.19,269.00 L68.45,269.07 L68.70,269.14 L68.96,269.22 L69.22,269.28 L69.47,269.34 L69.73,269.38 L69.98,269.40 L70.24,269.39 L70.50,269.36 L70.75,269.30 L71.01,269.22 L71.26,269.11 L71.52,269.00 L71.78,268.87 L72.03,268.74 L72.29,268.62 L72.55,268.49 L72.80,268.38 L73.06,268.28 L73.31,268.17 L73.57,268.06 L73.83,267.93 L74.08,267.81 L74.34,267.69 L74.59,267.58 L74.85,267.48 L75.11,267.40 L75.36,267.34 L75.62,267.30 L75.88,267.30 L76.13,267.33 L76.39,267.37 L76.64,267.43 L76.90,267.51 L77.16,267.59 L77.41,267.69 L77.67,267.79 L77.92,267.90 L78.18,268.00 L78.44,268.10 L78.69,268.20 L78.95,268.28 L79.21,268.36 L79.46,268.45 L79.72,268.54 L79.97,268.63 L80.23,268.72 L80.49,268.80 L80.74,268.89 L81.00,268.97 L81.25,269.04 L81.51,269.10 L81.77,269.16 L82.02,269.20 L82.28,269.24 L82.54,269.28 L82.79,269.32 L83.05,269.35 L83.30,269.37 L83.56,269.39 L83.82,269.40 L84.07,269.39 L84.33,269.31 L84.58,269.19 L84.84,269.03 L85.10,268.84 L85.35,268.64 L85.61,268.42 L85.86,268.21 L86.12,268.00 L86.38,267.78 L86.63,267.54 L86.89,267.27 L87.15,267.00 L87.40,266.71 L87.66,266.41 L87.91,266.10 L88.17,265.80 L88.43,265.48 L88.68,265.14 L88.94,264.79 L89.19,264.43 L89.45,264.06 L89.71,263.70 L89.96,263.35 L90.22,263.00 L90.48,262.65 L90.73,262.30 L90.99,261.96 L91.24,261.62 L91.50,261.29 L91.76,260.98 L92.01,260.69 L92.27,260.40 L92.52,260.11 L92.78,259.82 L93.04,259.55 L93.29,259.30 L93.55,259.08 L93.81,258.90 L94.06,258.77 L94.32,258.66 L94.57,258.56 L94.83,258.47 L95.09,258.39 L95.34,258.34 L95.60,258.31 L95.85,258.30 L96.11,258.33 L96.37,258.38 L96.62,258.45 L96.88,258.54 L97.14,258.64 L97.39,258.74 L97.65,258.85 L97.90,258.96 L98.16,259.07 L98.42,259.19 L98.67,259.33 L98.93,259.48 L99.18,259.64 L99.44,259.81 L99.70,259.99 L99.95,260.16 L100.21,260.34 L100.46,260.51 L100.72,260.68 L100.98,260.85 L101.23,261.02 L101.49,261.19 L101.75,261.37 L102.00,261.54 L102.26,261.72 L102.51,261.90 L102.77,262.07 L103.03,262.25 L103.28,262.42 L103.54,262.60 L103.79,262.77 L104.05,262.93 L104.31,263.10 L104.56,263.27 L104.82,263.44 L105.08,263.60 L105.33,263.77 L105.59,263.94 L105.84,264.11 L106.10,264.27 L106.36,264.43 L106.61,264.59 L106.87,264.75 L107.12,264.90 L107.38,265.05 L107.64,265.19 L107.89,265.32 L108.15,265.45 L108.41,265.57 L108.66,265.70 L108.92,265.82 L109.17,265.93 L109.43,266.05 L109.69,266.17 L109.94,266.28 L110.20,266.40 L110.45,266.51 L110.71,266.61 L110.97,266.72 L111.22,266.82 L111.48,266.93 L111.74,267.03 L111.99,267.12 L112.25,267.22 L112.50,267.31 L112.76,267.39 L113.02,267.48 L113.27,267.56 L113.53,267.64 L113.78,267.71 L114.04,267.78 L114.30,267.85 L114.55,267.91 L114.81,267.97 L115.06,268.03 L115.32,268.09 L115.58,268.14 L115.83,268.19 L116.09,268.24 L116.35,268.29 L116.60,268.33 L116.86,268.38 L117.11,268.42 L117.37,268.47 L117.63,268.51 L117.88,268.55 L118.14,268.59 L118.39,268.63 L118.65,268.67 L118.91,268.71 L119.16,268.75 L119.42,268.79 L119.68,268.83 L119.93,268.87 L120.19,268.91 L120.44,268.95 L120.70,268.99 L120.96,269.03 L121.21,269.08 L121.47,269.12 L121.72,269.16 L121.98,269.21 L122.24,269.25 L122.49,269.29 L122.75,269.33 L123.01,269.38 L123.26,269.42 L123.52,269.46 L123.77,269.50 L124.03,269.54 L124.29,269.59 L124.54,269.63 L124.80,269.67 L125.05,269.71 L125.31,269.75 L125.57,269.79 L125.82,269.83 L126.08,269.87 L126.34,269.90 L126.59,269.94 L126.85,269.98 L127.10,270.01 L127.36,270.05 L127.62,270.09 L127.87,270.13 L128.13,270.16 L128.38,270.20 L128.64,270.24 L128.90,270.27 L129.15,270.31 L129.41,270.35 L129.66,270.38 L129.92,270.42 L130.18,270.45 L130.43,270.49 L130.69,270.52 L130.95,270.55 L131.20,270.58 L131.46,270.61 L131.71,270.64 L131.97,270.67 L132.23,270.70 L132.48,270.73 L132.74,270.75 L132.99,270.78 L133.25,270.80 L133.51,270.82 L133.76,270.84 L134.02,270.87 L134.28,270.89 L134.53,270.91 L134.79,270.93 L135.04,270.95 L135.30,270.97 L135.56,270.99 L135.81,271.01 L136.07,271.03 L136.32,271.05 L136.58,271.07 L136.84,271.08 L137.09,271.10 L137.35,271.12 L137.61,271.13 L137.86,271.14 L138.12,271.16 L138.37,271.17 L138.63,271.18 L138.89,271.18 L139.14,271.19 L139.40,271.20 L139.65,271.20 L139.91,271.21 L140.17,271.21 L140.42,271.22 L140.68,271.22 L140.94,271.22 L141.19,271.23 L141.45,271.23 L141.70,271.24 L141.96,271.24 L142.22,271.24 L142.47,271.25 L142.73,271.25 L142.98,271.25 L143.24,271.26 L143.50,271.26 L143.75,271.26 L144.01,271.27 L144.26,271.27 L144.52,271.27 L144.78,271.27 L145.03,271.28 L145.29,271.28 L145.55,271.28 L145.80,271.28 L146.06,271.28 L146.31,271.29 L146.57,271.29 L146.83,271.29 L147.08,271.29 L147.34,271.29 L147.59,271.29 L147.85,271.30 L148.11,271.30 L148.36,271.30 L148.62,271.30 L148.88,271.30 L149.13,271.30 L149.39,271.30 L149.64,271.30 L149.90,271.30 L150.16,271.30 L150.41,271.30 L150.67,271.30 L150.92,271.30 L151.18,271.30 L151.44,271.30 L151.69,271.30 L151.95,271.30 L152.21,271.30 L152.46,271.30 L152.72,271.30 L152.97,271.30 L153.23,271.30 L153.49,271.30 L153.74,271.30 L154.00,271.30 L154.25,271.30 L154.51,271.30 L154.77,271.30 L155.02,271.30 L155.28,271.30 L155.54,271.30 L155.79,271.30 L156.05,271.30 L156.30,271.30 L156.56,271.30 L156.82,271.30 L157.07,271.30 L157.33,271.30 L157.58,271.30 L157.84,271.30 L158.10,271.30 L158.35,271.30 L158.61,271.30 L158.86,271.30 L159.12,271.30 L159.38,271.30 L159.63,271.30 L159.89,271.30 L160.15,271.30 L160.40,271.30 L160.66,271.30 L160.91,271.30 L161.17,271.30 L161.43,271.30 L161.68,271.30 L161.94,271.30 L162.19,271.30 L162.45,271.30 L162.71,271.30 L162.96,271.30 L163.22,271.30 L163.48,271.30 L163.73,271.30 L163.99,271.30 L164.24,271.30 L164.50,271.30" fill="none" stroke="#465f8c" stroke-width="1.05" stroke-linejoin="round" stroke-opacity="1"/>
<rect x="42.5" y="175" width="122.00" height="96.30" fill="none" stroke="#1c1c1c" stroke-width="1.1"/>
<line x1="41.95" y1="271.3" x2="165.1" y2="271.3" stroke="#1c1c1c" stroke-width="1.4"/>
<line x1="164.5" y1="174.5" x2="164.5" y2="271.90000000000003" stroke="#1c1c1c" stroke-width="1.3"/>
<line x1="39.3" y1="271.30" x2="42.5" y2="271.30" stroke="#1c1c1c" stroke-width="0.9"/>
<text x="36.3" y="274.25" font-size="8.1" text-anchor="end" fill="#1e1e1e" stroke="#1e1e1e" stroke-width="0.25">0</text>
<line x1="39.3" y1="255.00" x2="42.5" y2="255.00" stroke="#1c1c1c" stroke-width="0.9"/>
<text x="36.3" y="257.95" font-size="8.1" text-anchor="end" fill="#1e1e1e" stroke="#1e1e1e" stroke-width="0.25">200</text>
<line x1="39.3" y1="238.70" x2="42.5" y2="238.70" stroke="#1c1c1c" stroke-width="0.9"/>
<text x="36.3" y="241.65" font-size="8.1" text-anchor="end" fill="#1e1e1e" stroke="#1e1e1e" stroke-width="0.25">400</text>
<line x1="39.3" y1="222.40" x2="42.5" y2="222.40" stroke="#1c1c1c" stroke-width="0.9"/>
<text x="36.3" y="225.35" font-size="8.1" text-anchor="end" fill="#1e1e1e" stroke="#1e1e1e" stroke-width="0.25">600</text>
<line x1="39.3" y1="206.10" x2="42.5" y2="206.10" stroke="#1c1c1c" stroke-width="0.9"/>
<text x="36.3" y="209.05" font-size="8.1" text-anchor="end" fill="#1e1e1e" stroke="#1e1e1e" stroke-width="0.25">800</text>
<line x1="39.3" y1="189.80" x2="42.5" y2="189.80" stroke="#1c1c1c" stroke-width="0.9"/>
<text x="36.3" y="192.75" font-size="8.1" text-anchor="end" fill="#1e1e1e" stroke="#1e1e1e" stroke-width="0.25">1000</text>
<line x1="42.50" y1="271.3" x2="42.50" y2="274.3" stroke="#1c1c1c" stroke-width="0.9"/>
<text x="42.50" y="284.30" font-size="8.1" text-anchor="middle" fill="#1e1e1e" stroke="#1e1e1e" stroke-width="0.25">0</text>
<line x1="66.90" y1="271.3" x2="66.90" y2="274.3" stroke="#1c1c1c" stroke-width="0.9"/>
<text x="66.90" y="284.30" font-size="8.1" text-anchor="middle" fill="#1e1e1e" stroke="#1e1e1e" stroke-width="0.25">10</text>
<line x1="91.30" y1="271.3" x2="91.30" y2="274.3" stroke="#1c1c1c" stroke-width="0.9"/>
<text x="91.30" y="284.30" font-size="8.1" text-anchor="middle" fill="#1e1e1e" stroke="#1e1e1e" stroke-width="0.25">20</text>
<line x1="115.70" y1="271.3" x2="115.70" y2="274.3" stroke="#1c1c1c" stroke-width="0.9"/>
<text x="115.70" y="284.30" font-size="8.1" text-anchor="middle" fill="#1e1e1e" stroke="#1e1e1e" stroke-width="0.25">30</text>
<line x1="140.10" y1="271.3" x2="140.10" y2="274.3" stroke="#1c1c1c" stroke-width="0.9"/>
<text x="140.10" y="284.30" font-size="8.1" text-anchor="middle" fill="#1e1e1e" stroke="#1e1e1e" stroke-width="0.25">40</text>
<line x1="164.50" y1="271.3" x2="164.50" y2="274.3" stroke="#1c1c1c" stroke-width="0.9"/>
<text x="164.50" y="284.30" font-size="8.1" text-anchor="middle" fill="#1e1e1e" stroke="#1e1e1e" stroke-width="0.25">50</text>
<text x="58.60" y="282.90" font-size="6.5" font-weight="bold" text-anchor="middle" fill="#1e1e1e">*</text>
<text x="103.40" y="295.70" font-size="9" text-anchor="middle" fill="#1e1e1e" stroke="#1e1e1e" stroke-width="0.3" textLength="81.3" lengthAdjust="spacingAndGlyphs">Sedimentation coefficient (S)</text>
<text transform="translate(14.20,222.60) rotate(-90)" font-size="7.6" text-anchor="middle" fill="#1e1e1e" stroke="#1e1e1e" stroke-width="0.28" textLength="33.7" lengthAdjust="spacingAndGlyphs"><tspan font-style="italic">c</tspan>(<tspan font-style="italic">s</tspan>) (IU/S)</text>
<line x1="80.1" y1="181.6" x2="91.5" y2="181.6" stroke="#a8284a" stroke-width="1.4"/>
<text x="94.69999999999999" y="184.1" font-size="6.9" fill="#1e1e1e" stroke="#1e1e1e" stroke-width="0.22">(rhFVIII+VWF)+Ab1-7</text>
<line x1="80.1" y1="192.4" x2="91.5" y2="192.4" stroke="#4a8fcf" stroke-width="0.9"/>
<text x="94.69999999999999" y="194.9" font-size="6.9" fill="#1e1e1e" stroke="#1e1e1e" stroke-width="0.22">(rhFVIII+Ab1-7)+VWF</text>
<text x="182.0" y="168.9" font-size="10.1" font-weight="bold" fill="#111" stroke="#111" stroke-width="0.4">E</text>
<path d="M217.30,271.30 L217.54,271.30 L217.79,271.30 L218.03,271.30 L218.28,271.30 L218.52,271.30 L218.76,271.30 L219.01,271.30 L219.25,271.30 L219.50,271.30 L219.74,271.30 L219.98,271.30 L220.23,271.30 L220.47,271.30 L220.72,271.30 L220.96,271.30 L221.21,271.30 L221.45,271.30 L221.69,271.30 L221.94,271.30 L222.18,271.30 L222.43,271.30 L222.67,271.30 L222.91,271.30 L223.16,271.30 L223.40,271.30 L223.65,271.30 L223.89,271.30 L224.13,271.30 L224.38,271.30 L224.62,271.30 L224.87,271.30 L225.11,271.30 L225.35,271.30 L225.60,271.30 L225.84,271.30 L226.09,271.30 L226.33,271.30 L226.58,271.30 L226.82,271.30 L227.06,271.30 L227.31,271.30 L227.55,271.30 L227.80,271.30 L228.04,271.30 L228.28,271.30 L228.53,271.30 L228.77,271.30 L229.02,271.30 L229.26,271.30 L229.50,271.30 L229.75,271.30 L229.99,271.30 L230.24,271.30 L230.48,271.30 L230.72,271.30 L230.97,271.18 L231.21,270.61 L231.46,268.17 L231.70,261.26 L231.95,250.12 L232.19,236.21 L232.43,217.47 L232.48,211.97 L232.53,203.54 L232.55,198.49 L232.58,190.49 L232.60,185.68 L232.65,179.50 L232.65,179.50 L232.68,181.57 L232.70,185.68 L232.70,185.68 L232.72,190.49 L232.75,198.49 L232.77,203.54 L232.82,212.01 L232.92,223.14 L233.17,236.19 L233.41,245.62 L233.65,254.66 L233.90,261.26 L234.14,265.49 L234.39,268.48 L234.63,269.96 L234.87,270.83 L235.12,271.04 L235.36,271.11 L235.61,271.17 L235.85,271.22 L236.09,271.25 L236.34,271.27 L236.58,271.28 L236.83,271.28 L237.07,271.27 L237.32,271.24 L237.56,271.18 L237.80,271.09 L238.05,270.93 L238.29,270.72 L238.54,270.42 L238.78,270.05 L239.02,269.62 L239.27,269.18 L239.51,268.78 L239.76,268.47 L240.00,268.31 L240.24,268.33 L240.49,268.52 L240.73,268.84 L240.98,269.26 L241.22,269.70 L241.46,270.12 L241.71,270.48 L241.95,270.76 L242.20,270.97 L242.44,271.11 L242.69,271.19 L242.93,271.25 L243.17,271.27 L243.42,271.29 L243.66,271.29 L243.91,271.30 L244.15,271.30 L244.39,271.30 L244.64,271.30 L244.88,271.29 L245.13,271.28 L245.37,271.27 L245.61,271.25 L245.86,271.22 L246.10,271.17 L246.35,271.10 L246.59,271.01 L246.83,270.88 L247.08,270.72 L247.32,270.52 L247.57,270.30 L247.81,270.05 L248.06,269.80 L248.30,269.56 L248.54,269.35 L248.79,269.19 L249.03,269.10 L249.28,269.07 L249.52,269.12 L249.76,269.24 L250.01,269.42 L250.25,269.63 L250.50,269.85 L250.74,270.08 L250.98,270.28 L251.23,270.46 L251.47,270.60 L251.72,270.70 L251.96,270.77 L252.20,270.81 L252.45,270.83 L252.69,270.84 L252.94,270.83 L253.18,270.82 L253.43,270.81 L253.67,270.80 L253.91,270.80 L254.16,270.80 L254.40,270.81 L254.65,270.83 L254.89,270.85 L255.13,270.87 L255.38,270.91 L255.62,270.94 L255.87,270.98 L256.11,271.01 L256.35,271.05 L256.60,271.08 L256.84,271.12 L257.09,271.15 L257.33,271.18 L257.57,271.20 L257.82,271.22 L258.06,271.24 L258.31,271.25 L258.55,271.26 L258.79,271.27 L259.04,271.28 L259.28,271.28 L259.53,271.29 L259.77,271.29 L260.02,271.29 L260.26,271.30 L260.50,271.30 L260.75,271.30 L260.99,271.30 L261.24,271.30 L261.48,271.30 L261.72,271.30 L261.97,271.30 L262.21,271.30 L262.46,271.30 L262.70,271.30 L262.94,271.30 L263.19,271.30 L263.43,271.30 L263.68,271.30 L263.92,271.30 L264.16,271.30 L264.41,271.30 L264.65,271.30 L264.90,271.30 L265.14,271.30 L265.39,271.30 L265.63,271.30 L265.87,271.30 L266.12,271.30 L266.36,271.30 L266.61,271.30 L266.85,271.30 L267.09,271.30 L267.34,271.30 L267.58,271.30 L267.83,271.30 L268.07,271.30 L268.31,271.30 L268.56,271.30 L268.80,271.30 L269.05,271.30 L269.29,271.30 L269.53,271.30 L269.78,271.30 L270.02,271.30 L270.27,271.30 L270.51,271.30 L270.76,271.30 L271.00,271.30 L271.24,271.30 L271.49,271.30 L271.73,271.30 L271.98,271.30 L272.22,271.30 L272.46,271.30 L272.71,271.30 L272.95,271.30 L273.20,271.30 L273.44,271.30 L273.68,271.30 L273.93,271.30 L274.17,271.30 L274.42,271.30 L274.66,271.30 L274.90,271.30 L275.15,271.30 L275.39,271.30 L275.64,271.30 L275.88,271.30 L276.13,271.30 L276.37,271.30 L276.61,271.30 L276.86,271.30 L277.10,271.30 L277.35,271.30 L277.59,271.30 L277.83,271.30 L278.08,271.30 L278.32,271.30 L278.57,271.30 L278.81,271.30 L279.05,271.30 L279.30,271.30 L279.54,271.30 L279.79,271.30 L280.03,271.30 L280.27,271.30 L280.52,271.30 L280.76,271.30 L281.01,271.30 L281.25,271.30 L281.50,271.30 L281.74,271.30 L281.98,271.30 L282.23,271.30 L282.47,271.30 L282.72,271.30 L282.96,271.30 L283.20,271.30 L283.45,271.30 L283.69,271.30 L283.94,271.30 L284.18,271.30 L284.42,271.30 L284.67,271.30 L284.91,271.30 L285.16,271.30 L285.40,271.30 L285.64,271.30 L285.89,271.30 L286.13,271.30 L286.38,271.30 L286.62,271.30 L286.87,271.30 L287.11,271.30 L287.35,271.30 L287.60,271.30 L287.84,271.30 L288.09,271.30 L288.33,271.30 L288.57,271.30 L288.82,271.30 L289.06,271.30 L289.31,271.30 L289.55,271.30 L289.79,271.30 L290.04,271.30 L290.28,271.30 L290.53,271.30 L290.77,271.30 L291.01,271.30 L291.26,271.30 L291.50,271.30 L291.75,271.30 L291.99,271.30 L292.24,271.30 L292.48,271.30 L292.72,271.30 L292.97,271.30 L293.21,271.30 L293.46,271.30 L293.70,271.30 L293.94,271.30 L294.19,271.30 L294.43,271.30 L294.68,271.30 L294.92,271.30 L295.16,271.30 L295.41,271.30 L295.65,271.30 L295.90,271.30 L296.14,271.30 L296.38,271.30 L296.63,271.30 L296.87,271.30 L297.12,271.30 L297.36,271.30 L297.61,271.30 L297.85,271.30 L298.09,271.30 L298.34,271.30 L298.58,271.30 L298.83,271.30 L299.07,271.30 L299.31,271.30 L299.56,271.30 L299.80,271.30 L300.05,271.30 L300.29,271.30 L300.53,271.30 L300.78,271.30 L301.02,271.30 L301.27,271.30 L301.51,271.30 L301.75,271.30 L302.00,271.30 L302.24,271.30 L302.49,271.30 L302.73,271.30 L302.97,271.30 L303.22,271.30 L303.46,271.30 L303.71,271.30 L303.95,271.30 L304.20,271.30 L304.44,271.30 L304.68,271.30 L304.93,271.30 L305.17,271.30 L305.42,271.30 L305.66,271.30 L305.90,271.30 L306.15,271.30 L306.39,271.30 L306.64,271.30 L306.88,271.30 L307.12,271.30 L307.37,271.30 L307.61,271.30 L307.86,271.30 L308.10,271.30 L308.34,271.30 L308.59,271.30 L308.83,271.30 L309.08,271.30 L309.32,271.30 L309.57,271.30 L309.81,271.30 L310.05,271.30 L310.30,271.30 L310.54,271.30 L310.79,271.30 L311.03,271.30 L311.27,271.30 L311.52,271.30 L311.76,271.30 L312.01,271.30 L312.25,271.30 L312.49,271.30 L312.74,271.30 L312.98,271.30 L313.23,271.30 L313.47,271.30 L313.71,271.30 L313.96,271.30 L314.20,271.30 L314.45,271.30 L314.69,271.30 L314.94,271.30 L315.18,271.30 L315.42,271.30 L315.67,271.30 L315.91,271.30 L316.16,271.30 L316.40,271.30 L316.64,271.30 L316.89,271.30 L317.13,271.30 L317.38,271.30 L317.62,271.30 L317.86,271.30 L318.11,271.30 L318.35,271.30 L318.60,271.30 L318.84,271.30 L319.08,271.30 L319.33,271.30 L319.57,271.30 L319.82,271.30 L320.06,271.30 L320.31,271.30 L320.55,271.30 L320.79,271.30 L321.04,271.30 L321.28,271.30 L321.53,271.30 L321.77,271.30 L322.01,271.30 L322.26,271.30 L322.50,271.30 L322.75,271.30 L322.99,271.30 L323.23,271.30 L323.48,271.30 L323.72,271.30 L323.97,271.30 L324.21,271.30 L324.45,271.30 L324.70,271.30 L324.94,271.30 L325.19,271.30 L325.43,271.30 L325.68,271.30 L325.92,271.30 L326.16,271.30 L326.41,271.30 L326.65,271.30 L326.90,271.30 L327.14,271.30 L327.38,271.30 L327.63,271.30 L327.87,271.30 L328.12,271.30 L328.36,271.30 L328.60,271.30 L328.85,271.30 L329.09,271.30 L329.34,271.30 L329.58,271.30 L329.82,271.30 L330.07,271.30 L330.31,271.30 L330.56,271.30 L330.80,271.30 L331.05,271.30 L331.29,271.30 L331.53,271.30 L331.78,271.30 L332.02,271.30 L332.27,271.30 L332.51,271.30 L332.75,271.30 L333.00,271.30 L333.24,271.30 L333.49,271.30 L333.73,271.30 L333.97,271.30 L334.22,271.30 L334.46,271.30 L334.71,271.30 L334.95,271.30 L335.19,271.30 L335.44,271.30 L335.68,271.30 L335.93,271.30 L336.17,271.30 L336.42,271.30 L336.66,271.30 L336.90,271.30 L337.15,271.30 L337.39,271.30 L337.64,271.30 L337.88,271.30 L338.12,271.30 L338.37,271.30 L338.61,271.30 L338.86,271.30 L339.10,271.30" fill="none" stroke="#aa163f" stroke-width="1.0" stroke-linejoin="round" stroke-opacity="1"/>
<path d="M217.30,271.30 L217.38,271.30 L217.45,271.30 L217.53,271.30 L217.61,271.30 L217.69,271.30 L217.76,271.30 L217.84,271.30 L217.92,271.30 L217.99,271.30 L218.07,271.30 L218.15,271.30 L218.23,271.30 L218.30,271.30 L218.38,271.30 L218.46,271.30 L218.53,271.30 L218.61,271.30 L218.69,271.30 L218.77,271.30 L218.84,271.30 L218.92,271.30 L219.00,271.30 L219.07,271.30 L219.15,271.30 L219.23,271.30 L219.30,271.30 L219.38,271.30 L219.46,271.30 L219.54,271.30 L219.61,271.30 L219.69,271.30 L219.77,271.30 L219.84,271.30 L219.92,271.30 L220.00,271.30 L220.08,271.30 L220.15,271.30 L220.23,271.30 L220.31,271.30 L220.38,271.30 L220.46,271.30 L220.54,271.30 L220.62,271.30 L220.69,271.30 L220.77,271.30 L220.85,271.30 L220.92,271.30 L221.00,271.30 L221.08,271.30 L221.16,271.30 L221.23,271.30 L221.31,271.30 L221.39,271.30 L221.46,271.30 L221.54,271.30 L221.62,271.30 L221.70,271.30 L221.77,271.30 L221.85,271.30 L221.93,271.30 L222.00,271.30 L222.08,271.30 L222.16,271.30 L222.23,271.30 L222.31,271.30 L222.39,271.30 L222.47,271.30 L222.54,271.30 L222.62,271.30 L222.70,271.30 L222.77,271.30 L222.85,271.30 L222.93,271.30 L223.01,271.30 L223.08,271.30 L223.16,271.30 L223.24,271.30 L223.31,271.30 L223.39,271.30 L223.47,271.30 L223.55,271.30 L223.62,271.30 L223.70,271.30 L223.78,271.30 L223.85,271.30 L223.93,271.30 L224.01,271.30 L224.09,271.30 L224.16,271.30 L224.24,271.30 L224.32,271.30 L224.39,271.30 L224.47,271.30 L224.55,271.30 L224.63,271.30 L224.70,271.30 L224.78,271.30 L224.86,271.30 L224.93,271.30 L225.01,271.30 L225.09,271.30 L225.17,271.30 L225.24,271.30 L225.32,271.30 L225.40,271.30 L225.47,271.30 L225.55,271.30 L225.63,271.30 L225.70,271.30 L225.78,271.30 L225.86,271.30 L225.94,271.30 L226.01,271.30 L226.09,271.30 L226.17,271.30 L226.24,271.30 L226.32,271.30 L226.40,271.30 L226.48,271.30 L226.55,271.30 L226.63,271.30 L226.71,271.30 L226.78,271.30 L226.86,271.30 L226.94,271.30 L227.02,271.30 L227.09,271.30 L227.17,271.30 L227.25,271.30 L227.32,271.30 L227.40,271.30 L227.48,271.30 L227.56,271.30 L227.63,271.30 L227.71,271.30 L227.79,271.30 L227.86,271.30 L227.94,271.30 L228.02,271.30 L228.10,271.30 L228.17,271.30 L228.25,271.30 L228.33,271.30 L228.40,271.30 L228.48,271.30 L228.56,271.30 L228.63,271.30 L228.71,271.30 L228.79,271.30 L228.87,271.30 L228.94,271.30 L229.02,271.30 L229.10,271.30 L229.17,271.30 L229.25,271.30 L229.33,271.30 L229.41,271.30 L229.48,271.30 L229.56,271.30 L229.64,271.30 L229.71,271.30 L229.79,271.30 L229.87,271.30 L229.95,271.30 L230.02,271.30 L230.10,271.30 L230.18,271.30 L230.25,271.30 L230.33,271.30 L230.41,271.30 L230.49,271.30 L230.56,271.30 L230.64,271.30 L230.72,271.30 L230.79,271.30 L230.87,271.26 L230.95,271.14 L231.03,270.94 L231.10,270.69 L231.18,270.39 L231.26,269.94 L231.33,269.08 L231.41,267.87 L231.49,266.38 L231.57,264.66 L231.64,262.78 L231.72,260.78 L231.80,258.20 L231.87,254.99 L231.95,251.35 L232.03,247.47 L232.10,243.54 L232.18,239.73 L232.26,235.81 L232.34,231.71 L232.41,227.42 L232.48,223.31 L232.49,222.53 L232.53,219.28 L232.55,217.57 L232.57,216.10 L232.58,215.07 L232.60,213.53 L232.64,210.75 L232.65,210.50 L232.65,210.50 L232.70,209.30 L232.70,209.30 L232.72,209.52 L232.72,209.55 L232.75,210.56 L232.77,211.65 L232.80,213.64 L232.82,215.32 L232.88,220.08 L232.95,225.45 L233.03,229.09 L233.11,232.36 L233.18,235.36 L233.26,238.17 L233.34,240.90 L233.42,243.63 L233.49,246.37 L233.57,249.09 L233.65,251.73 L233.72,254.23 L233.80,256.54 L233.88,258.62 L233.96,260.42 L234.03,261.90 L234.11,263.27 L234.19,264.57 L234.26,265.77 L234.34,266.85 L234.42,267.78 L234.50,268.55 L234.57,269.14 L234.65,269.56 L234.73,269.94 L234.80,270.28 L234.88,270.57 L234.96,270.79 L235.03,270.94 L235.11,271.00 L235.19,271.03 L235.27,271.06 L235.34,271.08 L235.42,271.10 L235.50,271.13 L235.57,271.14 L235.65,271.16 L235.73,271.18 L235.81,271.20 L235.88,271.21 L235.96,271.22 L236.04,271.24 L236.11,271.25 L236.19,271.26 L236.27,271.26 L236.35,271.27 L236.42,271.28 L236.50,271.28" fill="none" stroke="url(#gE)" stroke-width="1.05" stroke-linejoin="round" stroke-opacity="1"/>
<path d="M236.50,271.28 L236.76,271.30 L237.01,271.30 L237.27,271.29 L237.53,271.28 L237.79,271.23 L238.04,271.10 L238.30,270.81 L238.56,270.25 L238.81,269.29 L239.07,267.88 L239.33,266.14 L239.59,264.38 L239.84,263.05 L240.10,262.55 L240.36,263.05 L240.61,264.38 L240.87,266.14 L241.13,267.88 L241.39,269.29 L241.64,270.25 L241.90,270.81 L242.16,271.10 L242.41,271.23 L242.67,271.28 L242.93,271.29 L243.19,271.30 L243.44,271.30 L243.70,271.30 L243.96,271.30 L244.21,271.30 L244.47,271.30 L244.73,271.30 L244.99,271.30 L245.24,271.30 L245.50,271.30 L245.76,271.29 L246.01,271.28 L246.27,271.25 L246.53,271.19 L246.79,271.08 L247.04,270.86 L247.30,270.51 L247.56,269.97 L247.81,269.23 L248.07,268.29 L248.33,267.24 L248.59,266.21 L248.84,265.37 L249.10,264.88 L249.36,264.84 L249.61,265.26 L249.87,266.05 L250.13,267.06 L250.39,268.12 L250.64,269.08 L250.90,269.86 L251.16,270.43 L251.41,270.81 L251.67,271.05 L251.93,271.18 L252.19,271.25 L252.44,271.28 L252.70,271.29 L252.96,271.30 L253.21,271.30 L253.47,271.30 L253.73,271.30 L253.99,271.30 L254.24,271.30 L254.50,271.29 L254.76,271.29 L255.01,271.28 L255.27,271.27 L255.53,271.25 L255.79,271.23 L256.04,271.19 L256.30,271.14 L256.56,271.06 L256.81,270.97 L257.07,270.84 L257.33,270.69 L257.59,270.50 L257.84,270.28 L258.10,270.04 L258.36,269.78 L258.61,269.51 L258.87,269.25 L259.13,269.01 L259.39,268.81 L259.64,268.66 L259.90,268.57 L260.16,268.55 L260.41,268.60 L260.67,268.72 L260.93,268.90 L261.19,269.12 L261.44,269.37 L261.70,269.63 L261.96,269.90 L262.21,270.15 L262.47,270.38 L262.73,270.59 L262.99,270.76 L263.24,270.90 L263.50,271.01 L263.76,271.10 L264.01,271.16 L264.27,271.20 L264.53,271.23 L264.79,271.25 L265.04,271.26 L265.30,271.26 L265.56,271.26 L265.81,271.25 L266.07,271.24 L266.33,271.22 L266.59,271.20 L266.84,271.17 L267.10,271.13 L267.36,271.09 L267.61,271.04 L267.87,270.98 L268.13,270.92 L268.39,270.85 L268.64,270.78 L268.90,270.71 L269.16,270.64 L269.41,270.58 L269.67,270.52 L269.93,270.47 L270.19,270.44 L270.44,270.41 L270.70,270.40 L270.96,270.40 L271.21,270.42 L271.47,270.46 L271.73,270.50 L271.99,270.56 L272.24,270.62 L272.50,270.69 L272.76,270.76 L273.01,270.83 L273.27,270.89 L273.53,270.96 L273.79,271.02 L274.04,271.07 L274.30,271.11 L274.56,271.15 L274.81,271.19 L275.07,271.21 L275.33,271.23 L275.59,271.25 L275.84,271.26 L276.10,271.27 L276.36,271.28 L276.61,271.29 L276.87,271.29 L277.13,271.29 L277.39,271.30 L277.64,271.30 L277.90,271.30 L278.16,271.30 L278.41,271.30 L278.67,271.30 L278.93,271.30 L279.19,271.30 L279.44,271.30 L279.70,271.30 L279.96,271.30 L280.21,271.30 L280.47,271.30 L280.73,271.30 L280.99,271.30 L281.24,271.30 L281.50,271.30 L281.76,271.30 L282.01,271.30 L282.27,271.30 L282.53,271.30 L282.79,271.30 L283.04,271.30 L283.30,271.30 L283.56,271.30 L283.81,271.30 L284.07,271.30 L284.33,271.30 L284.59,271.30 L284.84,271.30 L285.10,271.30 L285.36,271.30 L285.61,271.30 L285.87,271.30 L286.13,271.30 L286.39,271.30 L286.64,271.30 L286.90,271.30 L287.16,271.30 L287.41,271.30 L287.67,271.30 L287.93,271.30 L288.19,271.30 L288.44,271.30 L288.70,271.30 L288.96,271.30 L289.21,271.30 L289.47,271.30 L289.73,271.30 L289.99,271.30 L290.24,271.30 L290.50,271.30 L290.76,271.30 L291.01,271.30 L291.27,271.30 L291.53,271.30 L291.79,271.30 L292.04,271.30 L292.30,271.30 L292.56,271.30 L292.81,271.30 L293.07,271.30 L293.33,271.30 L293.59,271.30 L293.84,271.30 L294.10,271.30 L294.36,271.30 L294.61,271.30 L294.87,271.30 L295.13,271.30 L295.39,271.30 L295.64,271.30 L295.90,271.30 L296.16,271.30 L296.41,271.30 L296.67,271.30 L296.93,271.30 L297.19,271.30 L297.44,271.30 L297.70,271.30 L297.96,271.30 L298.21,271.30 L298.47,271.30 L298.73,271.30 L298.99,271.30 L299.24,271.30 L299.50,271.30 L299.76,271.30 L300.01,271.30 L300.27,271.30 L300.53,271.30 L300.79,271.30 L301.04,271.30 L301.30,271.30 L301.56,271.30 L301.81,271.30 L302.07,271.30 L302.33,271.30 L302.59,271.30 L302.84,271.30 L303.10,271.30 L303.36,271.30 L303.61,271.30 L303.87,271.30 L304.13,271.30 L304.39,271.30 L304.64,271.30 L304.90,271.30 L305.16,271.30 L305.41,271.30 L305.67,271.30 L305.93,271.30 L306.19,271.30 L306.44,271.30 L306.70,271.30 L306.96,271.30 L307.21,271.30 L307.47,271.30 L307.73,271.30 L307.99,271.30 L308.24,271.30 L308.50,271.30 L308.76,271.30 L309.01,271.30 L309.27,271.30 L309.53,271.30 L309.79,271.30 L310.04,271.30 L310.30,271.30 L310.56,271.30 L310.81,271.30 L311.07,271.30 L311.33,271.30 L311.59,271.30 L311.84,271.30 L312.10,271.30 L312.36,271.30 L312.61,271.30 L312.87,271.30 L313.13,271.30 L313.39,271.30 L313.64,271.30 L313.90,271.30 L314.16,271.30 L314.41,271.30 L314.67,271.30 L314.93,271.30 L315.19,271.30 L315.44,271.30 L315.70,271.30 L315.96,271.30 L316.21,271.30 L316.47,271.30 L316.73,271.30 L316.99,271.30 L317.24,271.30 L317.50,271.30 L317.76,271.30 L318.01,271.30 L318.27,271.30 L318.53,271.30 L318.79,271.30 L319.04,271.30 L319.30,271.30 L319.56,271.30 L319.81,271.30 L320.07,271.30 L320.33,271.30 L320.59,271.30 L320.84,271.30 L321.10,271.30 L321.36,271.30 L321.61,271.30 L321.87,271.30 L322.13,271.30 L322.39,271.30 L322.64,271.30 L322.90,271.30 L323.16,271.30 L323.41,271.30 L323.67,271.30 L323.93,271.30 L324.19,271.30 L324.44,271.30 L324.70,271.30 L324.96,271.30 L325.21,271.30 L325.47,271.30 L325.73,271.30 L325.99,271.30 L326.24,271.30 L326.50,271.30 L326.76,271.30 L327.01,271.30 L327.27,271.30 L327.53,271.30 L327.79,271.30 L328.04,271.30 L328.30,271.30 L328.56,271.30 L328.81,271.30 L329.07,271.30 L329.33,271.30 L329.59,271.30 L329.84,271.30 L330.10,271.30 L330.36,271.30 L330.61,271.30 L330.87,271.30 L331.13,271.30 L331.39,271.30 L331.64,271.30 L331.90,271.30 L332.16,271.30 L332.41,271.30 L332.67,271.30 L332.93,271.30 L333.19,271.30 L333.44,271.30 L333.70,271.30 L333.96,271.30 L334.21,271.30 L334.47,271.30 L334.73,271.30 L334.99,271.30 L335.24,271.30 L335.50,271.30 L335.76,271.30 L336.01,271.30 L336.27,271.30 L336.53,271.30 L336.79,271.30 L337.04,271.30 L337.30,271.30 L337.56,271.30 L337.81,271.30 L338.07,271.30 L338.33,271.30 L338.59,271.30 L338.84,271.30 L339.10,271.30" fill="none" stroke="#35a0b4" stroke-width="1.05" stroke-linejoin="round" stroke-opacity="1"/>
<rect x="217.3" y="175" width="121.80" height="96.30" fill="none" stroke="#1c1c1c" stroke-width="1.1"/>
<line x1="216.75" y1="271.3" x2="339.70000000000005" y2="271.3" stroke="#1c1c1c" stroke-width="1.4"/>
<line x1="339.1" y1="174.5" x2="339.1" y2="271.90000000000003" stroke="#1c1c1c" stroke-width="1.6"/>
<line x1="214.10000000000002" y1="271.30" x2="217.3" y2="271.30" stroke="#1c1c1c" stroke-width="0.9"/>
<text x="211.10000000000002" y="274.25" font-size="8.1" text-anchor="end" fill="#1e1e1e" stroke="#1e1e1e" stroke-width="0.25">0</text>
<line x1="214.10000000000002" y1="255.85" x2="217.3" y2="255.85" stroke="#1c1c1c" stroke-width="0.9"/>
<text x="211.10000000000002" y="258.80" font-size="8.1" text-anchor="end" fill="#1e1e1e" stroke="#1e1e1e" stroke-width="0.25">500</text>
<line x1="214.10000000000002" y1="240.40" x2="217.3" y2="240.40" stroke="#1c1c1c" stroke-width="0.9"/>
<text x="211.10000000000002" y="243.35" font-size="8.1" text-anchor="end" fill="#1e1e1e" stroke="#1e1e1e" stroke-width="0.25">1000</text>
<line x1="214.10000000000002" y1="224.95" x2="217.3" y2="224.95" stroke="#1c1c1c" stroke-width="0.9"/>
<text x="211.10000000000002" y="227.90" font-size="8.1" text-anchor="end" fill="#1e1e1e" stroke="#1e1e1e" stroke-width="0.25">1500</text>
<line x1="214.10000000000002" y1="209.50" x2="217.3" y2="209.50" stroke="#1c1c1c" stroke-width="0.9"/>
<text x="211.10000000000002" y="212.45" font-size="8.1" text-anchor="end" fill="#1e1e1e" stroke="#1e1e1e" stroke-width="0.25">2000</text>
<line x1="214.10000000000002" y1="194.05" x2="217.3" y2="194.05" stroke="#1c1c1c" stroke-width="0.9"/>
<text x="211.10000000000002" y="197.00" font-size="8.1" text-anchor="end" fill="#1e1e1e" stroke="#1e1e1e" stroke-width="0.25">2500</text>
<line x1="214.10000000000002" y1="178.60" x2="217.3" y2="178.60" stroke="#1c1c1c" stroke-width="0.9"/>
<text x="211.10000000000002" y="181.55" font-size="8.1" text-anchor="end" fill="#1e1e1e" stroke="#1e1e1e" stroke-width="0.25">3000</text>
<line x1="217.30" y1="271.3" x2="217.30" y2="274.3" stroke="#1c1c1c" stroke-width="0.9"/>
<text x="217.30" y="284.30" font-size="8.1" text-anchor="middle" fill="#1e1e1e" stroke="#1e1e1e" stroke-width="0.25">0</text>
<line x1="241.66" y1="271.3" x2="241.66" y2="274.3" stroke="#1c1c1c" stroke-width="0.9"/>
<text x="241.66" y="284.30" font-size="8.1" text-anchor="middle" fill="#1e1e1e" stroke="#1e1e1e" stroke-width="0.25">10</text>
<line x1="266.02" y1="271.3" x2="266.02" y2="274.3" stroke="#1c1c1c" stroke-width="0.9"/>
<text x="266.02" y="284.30" font-size="8.1" text-anchor="middle" fill="#1e1e1e" stroke="#1e1e1e" stroke-width="0.25">20</text>
<line x1="290.38" y1="271.3" x2="290.38" y2="274.3" stroke="#1c1c1c" stroke-width="0.9"/>
<text x="290.38" y="284.30" font-size="8.1" text-anchor="middle" fill="#1e1e1e" stroke="#1e1e1e" stroke-width="0.25">30</text>
<line x1="314.74" y1="271.3" x2="314.74" y2="274.3" stroke="#1c1c1c" stroke-width="0.9"/>
<text x="314.74" y="284.30" font-size="8.1" text-anchor="middle" fill="#1e1e1e" stroke="#1e1e1e" stroke-width="0.25">40</text>
<line x1="339.10" y1="271.3" x2="339.10" y2="274.3" stroke="#1c1c1c" stroke-width="0.9"/>
<text x="339.10" y="284.30" font-size="8.1" text-anchor="middle" fill="#1e1e1e" stroke="#1e1e1e" stroke-width="0.25">50</text>
<text x="233.38" y="282.90" font-size="6.5" font-weight="bold" text-anchor="middle" fill="#1e1e1e">*</text>
<text x="278.20" y="295.70" font-size="9" text-anchor="middle" fill="#1e1e1e" stroke="#1e1e1e" stroke-width="0.3" textLength="81.3" lengthAdjust="spacingAndGlyphs">Sedimentation coefficient (S)</text>
<text transform="translate(188.50,222.50) rotate(-90)" font-size="7.6" text-anchor="middle" fill="#1e1e1e" stroke="#1e1e1e" stroke-width="0.28" textLength="33.7" lengthAdjust="spacingAndGlyphs"><tspan font-style="italic">c</tspan>(<tspan font-style="italic">s</tspan>) (IU/S)</text>
<line x1="260.1" y1="181.6" x2="271.5" y2="181.6" stroke="#a8284a" stroke-width="1.4"/>
<text x="274.70000000000005" y="184.1" font-size="6.9" fill="#1e1e1e" stroke="#1e1e1e" stroke-width="0.22">(<tspan font-style="italic">rh</tspan>FVIII+VWF)+Ab1</text>
<line x1="260.1" y1="192.4" x2="271.5" y2="192.4" stroke="#4a8fcf" stroke-width="0.9"/>
<text x="274.70000000000005" y="194.9" font-size="6.9" fill="#1e1e1e" stroke="#1e1e1e" stroke-width="0.22">(<tspan font-style="italic">rh</tspan>FVIII+Ab1)+VWF</text>
<rect x="0" y="0" width="520" height="0.95" fill="#5c5c5c"/>
<rect x="0" y="0" width="0.95" height="305" fill="#666"/>
<rect x="518.85" y="0" width="1.15" height="305" fill="#555"/>
<rect x="0" y="303.85" width="520" height="1.15" fill="#555"/>
</svg>
</body></html>
